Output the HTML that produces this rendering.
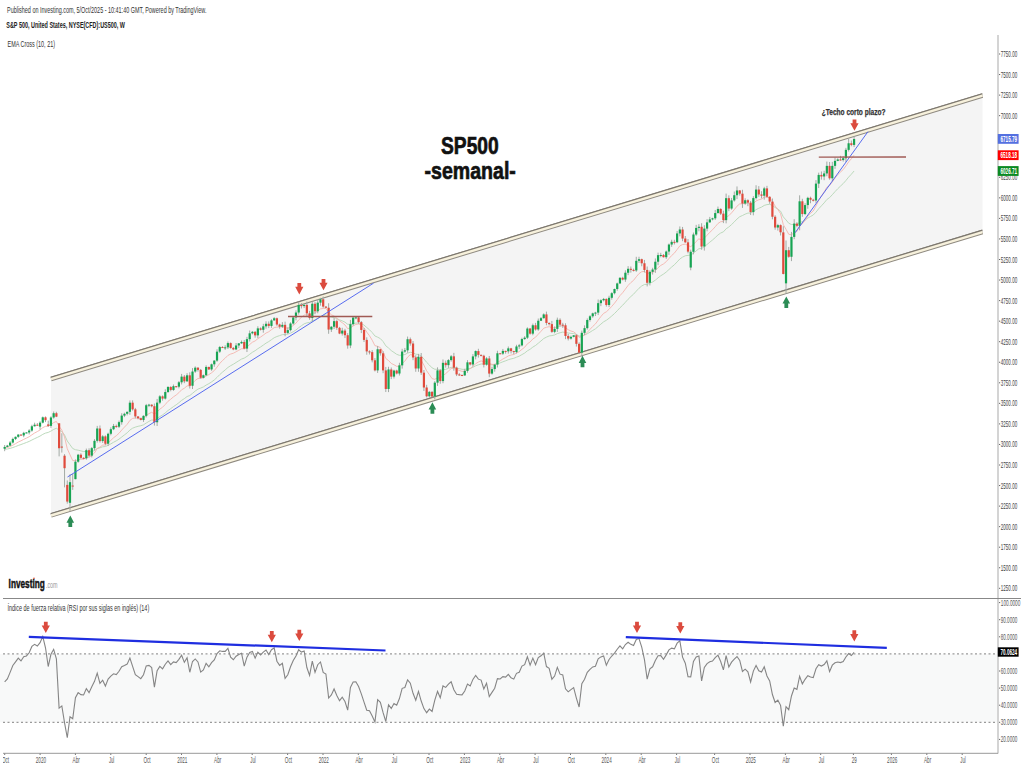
<!DOCTYPE html><html><head><meta charset="utf-8"><style>html,body{margin:0;padding:0;background:#fff;width:1024px;height:768px;overflow:hidden}</style></head><body><svg width="1024" height="768" viewBox="0 0 1024 768" style="display:block">
<rect width="1024" height="768" fill="#fff"/>
<text x="7" y="13.3" font-size="8.8" font-weight="normal" fill="#333" text-anchor="start" textLength="199.5" lengthAdjust="spacingAndGlyphs" font-family="Liberation Sans, sans-serif" >Published on Investing.com, 5/Oct/2025 - 10:41:40 GMT, Powered by TradingView.</text>
<text x="6.3" y="27.5" font-size="8.2" font-weight="bold" fill="#222" text-anchor="start" textLength="118.6" lengthAdjust="spacingAndGlyphs" font-family="Liberation Sans, sans-serif" >S&amp;P 500, United States, NYSE(CFD):US500, W</text>
<text x="7.5" y="47.4" font-size="9" font-weight="normal" fill="#333" text-anchor="start" textLength="47.5" lengthAdjust="spacingAndGlyphs" font-family="Liberation Sans, sans-serif" >EMA Cross (10, 21)</text>
<polygon points="51,378.60 982.5,95.14 982.5,231.54 51,515.00" fill="#f4f4f4"/>
<polyline points="4.66,449.33 7.38,448.99 10.10,448.40 12.83,447.54 15.55,446.57 18.27,445.48 20.99,444.56 23.72,443.50 26.44,442.49 29.16,441.41 31.88,440.03 34.61,438.64 37.33,437.41 40.05,436.07 42.77,434.37 45.50,433.08 48.22,432.43 50.94,431.07 53.66,429.44 56.39,428.28 59.11,430.10 61.83,431.61 64.56,434.94 67.28,441.00 70.00,444.74 72.72,448.53 75.44,449.73 78.17,450.18 80.89,450.88 83.61,451.56 86.34,451.44 89.06,451.82 91.78,451.48 94.50,450.52 97.22,448.51 99.95,447.84 102.67,446.80 105.39,446.52 108.12,445.36 110.84,443.89 113.56,442.26 116.28,440.85 119.00,439.15 121.73,437.01 124.45,434.90 127.17,432.80 129.90,430.06 132.62,428.18 135.34,427.11 138.06,426.30 140.78,425.73 143.51,424.83 146.23,423.05 148.95,421.38 151.68,420.00 154.40,420.20 157.12,418.60 159.84,416.58 162.56,414.95 165.29,412.86 168.01,410.51 170.73,408.64 173.46,406.60 176.18,404.79 178.90,402.74 181.62,400.37 184.34,398.64 187.07,396.52 189.79,395.54 192.51,393.36 195.24,391.02 197.96,389.10 200.68,388.07 203.40,386.91 206.12,385.09 208.85,383.66 211.57,381.90 214.29,379.97 217.02,377.39 219.74,374.63 222.46,372.16 225.18,369.91 227.91,367.47 230.63,365.70 233.35,364.22 236.07,362.51 238.80,360.77 241.52,359.06 244.24,358.11 246.96,356.39 249.69,354.29 252.41,352.25 255.13,350.71 257.85,348.68 260.58,346.97 263.30,345.09 266.02,343.15 268.74,341.59 271.47,339.66 274.19,337.72 276.91,336.52 279.63,335.62 282.36,334.64 285.08,334.48 287.80,334.09 290.52,333.13 293.25,331.70 295.97,329.96 298.69,327.68 301.41,325.72 304.13,323.83 306.86,322.87 309.58,322.43 312.30,320.73 315.02,319.87 317.75,318.31 320.47,316.58 323.19,315.67 325.92,314.95 328.64,316.28 331.36,317.23 334.08,317.59 336.81,318.51 339.53,319.88 342.25,320.86 344.97,322.16 347.69,324.28 350.42,324.27 353.14,323.67 355.86,323.10 358.59,323.01 361.31,323.64 364.03,325.12 366.75,327.51 369.48,329.75 372.20,332.52 374.92,335.96 377.64,337.17 380.37,338.64 383.09,341.52 385.81,345.84 388.53,347.99 391.25,350.59 393.98,352.41 396.70,354.32 399.42,355.33 402.15,354.99 404.87,354.56 407.59,353.17 410.31,352.29 413.04,352.76 415.76,354.19 418.48,354.43 421.20,356.09 423.93,358.94 426.65,362.33 429.37,365.02 432.09,367.88 434.81,369.22 437.54,369.33 440.26,370.40 442.98,369.71 445.71,369.29 448.43,368.46 451.15,367.36 453.87,367.38 456.60,368.02 459.32,368.66 462.04,369.27 464.76,369.42 467.49,368.77 470.21,368.38 472.93,367.29 475.65,365.82 478.38,364.82 481.10,364.00 483.82,364.06 486.54,363.55 489.27,364.47 491.99,364.89 494.71,364.86 497.43,363.81 500.16,362.88 502.88,361.80 505.60,360.84 508.32,359.71 511.05,358.92 513.77,358.30 516.49,357.22 519.21,356.15 521.93,354.60 524.66,353.06 527.38,350.83 530.10,349.27 532.83,347.08 535.55,345.48 538.27,343.23 540.99,340.96 543.72,338.54 546.44,337.13 549.16,335.94 551.88,335.57 554.61,334.96 557.33,333.59 560.05,332.78 562.77,332.09 565.50,332.44 568.22,333.00 570.94,333.35 573.66,333.53 576.38,334.46 579.11,336.12 581.83,335.82 584.55,335.12 587.27,333.74 590.00,332.16 592.72,330.45 595.44,328.83 598.17,326.49 600.89,324.11 603.61,321.82 606.33,320.29 609.06,318.24 611.78,315.97 614.50,313.52 617.22,310.78 619.95,307.79 622.67,305.22 625.39,302.27 628.11,299.22 630.84,296.55 633.56,294.18 636.28,291.15 639.00,288.24 641.73,285.97 644.45,284.51 647.17,284.35 649.89,283.21 652.62,281.97 655.34,280.13 658.06,277.86 660.78,275.78 663.50,274.09 666.23,272.04 668.95,269.54 671.67,267.02 674.39,264.77 677.12,261.92 679.84,258.97 682.56,257.11 685.29,255.77 688.01,255.39 690.73,255.06 693.45,253.19 696.18,250.90 698.90,248.71 701.62,248.51 704.34,246.70 707.07,244.48 709.79,242.20 712.51,240.03 715.23,237.58 717.96,234.97 720.68,233.03 723.40,231.86 726.12,228.80 728.85,226.96 731.57,224.54 734.29,221.88 737.01,219.02 739.74,216.71 742.46,215.51 745.18,214.13 747.90,213.08 750.62,212.99 753.35,211.63 756.07,209.63 758.79,208.25 761.51,207.11 764.24,205.41 766.96,204.62 769.68,204.34 772.41,205.47 775.13,207.48 777.85,209.08 780.57,211.19 783.30,216.90 786.02,219.93 788.74,223.28 791.46,224.52 794.19,224.43 796.91,224.56 799.63,222.44 802.35,221.68 805.08,220.17 807.80,218.14 810.52,216.47 813.24,215.01 815.97,212.16 818.69,208.78 821.41,205.84 824.13,202.89 826.86,199.53 829.58,197.60 832.30,194.71 835.02,191.64 837.75,188.71 840.47,186.10 843.19,183.57 845.91,180.50 848.63,177.12 851.36,174.19 854.08,170.99" fill="none" stroke="#b5d6b5" stroke-width="0.9" />
<polyline points="4.66,447.90 7.38,447.49 10.10,446.59 12.83,445.20 15.55,443.67 18.27,442.02 20.99,440.82 23.72,439.37 26.44,438.11 29.16,436.74 31.88,434.84 34.61,433.00 37.33,431.57 40.05,429.95 42.77,427.65 45.50,426.30 48.22,426.22 50.94,424.63 53.66,422.56 56.39,421.49 59.11,426.35 61.83,430.06 64.56,436.99 67.28,448.74 70.00,454.82 72.72,460.57 75.44,460.78 78.17,459.68 80.89,459.34 83.61,459.16 86.34,457.53 89.06,457.19 91.78,455.54 94.50,452.87 97.22,448.44 99.95,447.10 102.67,445.15 105.39,444.89 108.12,442.87 110.84,440.39 113.56,437.77 116.28,435.75 119.00,433.28 121.73,430.07 124.45,427.11 127.17,424.33 129.90,420.39 132.62,418.39 135.34,418.03 138.06,418.07 140.78,418.41 143.51,417.94 146.23,415.63 148.95,413.64 151.68,412.29 154.40,414.10 157.12,412.01 159.84,409.17 162.56,407.24 165.29,404.47 168.01,401.29 170.73,399.23 173.46,396.86 176.18,395.00 178.90,392.70 181.62,389.78 184.34,388.24 187.07,385.89 189.79,385.87 192.51,383.26 195.24,380.43 197.96,378.51 200.68,378.38 203.40,377.81 206.12,375.83 208.85,374.66 211.57,372.78 214.29,370.57 217.02,367.13 219.74,363.47 222.46,360.56 225.18,358.16 227.91,355.42 230.63,354.06 233.35,353.22 236.07,351.81 238.80,350.27 241.52,348.76 244.24,348.73 246.96,346.99 249.69,344.50 252.41,342.20 255.13,340.96 257.85,338.67 260.58,337.06 263.30,335.11 266.02,333.05 268.74,331.75 271.47,329.69 274.19,327.61 276.91,327.05 279.63,326.98 282.36,326.59 285.08,327.74 287.80,328.17 290.52,327.33 293.25,325.53 295.97,323.17 298.69,319.86 301.41,317.36 304.13,315.09 306.86,314.77 309.58,315.36 312.30,313.25 315.02,312.89 317.75,311.03 320.47,308.89 323.19,308.48 325.92,308.34 328.64,312.20 331.36,314.84 334.08,315.99 336.81,318.14 339.53,320.94 342.25,322.70 344.97,324.97 347.69,328.70 350.42,327.88 353.14,326.01 355.86,324.44 358.59,324.02 361.31,325.10 364.03,327.79 366.75,332.08 369.48,335.73 372.20,340.19 374.92,345.68 377.64,346.33 380.37,347.60 383.09,351.74 385.81,358.51 388.53,360.50 391.25,363.44 393.98,364.73 396.70,366.33 399.42,366.15 402.15,363.50 404.87,361.11 407.59,357.13 410.31,354.65 413.04,355.17 415.76,357.59 418.48,357.44 421.20,360.21 423.93,365.17 426.65,370.83 429.37,374.65 432.09,378.63 434.81,379.35 437.54,377.72 440.26,378.33 442.98,375.51 445.71,373.63 448.43,371.17 451.15,368.47 453.87,368.33 456.60,369.43 459.32,370.44 462.04,371.35 464.76,371.26 467.49,369.64 470.21,368.70 472.93,366.46 475.65,363.67 478.38,362.06 481.10,360.92 483.82,361.61 486.54,361.04 489.27,363.32 491.99,364.37 494.71,364.41 497.43,362.39 500.16,360.80 502.88,359.00 505.60,357.60 508.32,355.92 511.05,355.04 513.77,354.50 516.49,353.04 519.21,351.65 521.93,349.36 524.66,347.24 527.38,343.84 530.10,341.98 532.83,338.94 535.55,337.22 538.27,334.22 540.99,331.31 543.72,328.23 546.44,327.28 549.16,326.70 551.88,327.63 554.61,327.86 557.33,326.40 560.05,326.09 562.77,325.94 565.50,327.76 568.22,329.72 570.94,331.02 573.66,331.80 576.38,333.99 579.11,337.38 581.83,336.55 584.55,335.02 587.27,332.29 590.00,329.38 592.72,326.46 595.44,323.94 598.17,320.16 600.89,316.55 603.61,313.35 606.33,311.82 609.06,309.27 611.78,306.35 614.50,303.20 617.22,299.60 619.95,295.64 622.67,292.72 625.39,289.09 628.11,285.40 630.84,282.57 633.56,280.36 636.28,276.81 639.00,273.60 641.73,271.73 644.45,271.40 647.17,273.47 649.89,273.17 652.62,272.51 655.34,270.55 658.06,267.75 660.78,265.42 663.50,263.93 666.23,261.67 668.95,258.56 671.67,255.52 674.39,253.10 677.12,249.53 679.84,245.89 682.56,244.55 685.29,244.14 688.01,245.50 690.73,246.64 693.45,244.44 696.18,241.44 698.90,238.77 701.62,240.18 704.34,238.07 707.07,235.21 709.79,232.34 712.51,229.79 715.23,226.75 717.96,223.51 720.68,221.71 723.40,221.42 726.12,217.20 728.85,215.62 731.57,212.86 734.29,209.65 737.01,206.16 739.74,203.89 742.46,203.82 745.18,203.17 747.90,203.07 750.62,204.70 753.35,203.50 756.07,200.97 758.79,199.79 761.51,199.05 764.24,197.11 766.96,197.05 769.68,197.87 772.41,201.30 775.13,206.07 777.85,209.54 780.57,213.67 783.30,224.64 786.02,229.29 788.74,234.29 791.46,234.76 794.19,232.73 796.91,231.47 799.63,225.98 802.35,223.81 805.08,220.41 807.80,216.31 810.52,213.29 813.24,210.96 815.97,205.99 818.69,200.34 821.41,196.00 824.13,191.90 826.86,187.17 829.58,185.55 832.30,181.98 835.02,178.14 837.75,174.74 840.47,172.07 843.19,169.55 845.91,165.97 848.63,161.84 851.36,158.76 854.08,155.17" fill="none" stroke="#f4b4ae" stroke-width="0.9" />
<line x1="51" y1="379.00" x2="982.5" y2="95.54" stroke="#8f8a80" stroke-width="4.6"/>
<line x1="51" y1="377.20" x2="982.5" y2="93.74" stroke="#7d786f" stroke-width="1.2"/>
<line x1="51" y1="379.10" x2="982.5" y2="95.64" stroke="#f7f1dc" stroke-width="2.4"/>
<line x1="51" y1="515.40" x2="982.5" y2="231.94" stroke="#8f8a80" stroke-width="4.6"/>
<line x1="51" y1="513.60" x2="982.5" y2="230.14" stroke="#7d786f" stroke-width="1.2"/>
<line x1="51" y1="515.50" x2="982.5" y2="232.04" stroke="#f7f1dc" stroke-width="2.4"/>
<line x1="4.66" y1="445.03" x2="4.66" y2="451.19" stroke="#a3aaa5" stroke-width="1"/>
<rect x="3.56" y="446.92" width="2.2" height="1.81" fill="#17a453"/>
<line x1="7.38" y1="444.90" x2="7.38" y2="447.31" stroke="#a3aaa5" stroke-width="1"/>
<rect x="6.28" y="445.60" width="2.2" height="1.32" fill="#17a453"/>
<line x1="10.10" y1="441.09" x2="10.10" y2="446.03" stroke="#a3aaa5" stroke-width="1"/>
<rect x="9.00" y="442.56" width="2.2" height="3.04" fill="#17a453"/>
<line x1="12.83" y1="437.61" x2="12.83" y2="443.58" stroke="#a3aaa5" stroke-width="1"/>
<rect x="11.73" y="438.94" width="2.2" height="3.62" fill="#17a453"/>
<line x1="15.55" y1="436.49" x2="15.55" y2="440.09" stroke="#a3aaa5" stroke-width="1"/>
<rect x="14.45" y="436.81" width="2.2" height="2.14" fill="#17a453"/>
<line x1="18.27" y1="434.29" x2="18.27" y2="437.83" stroke="#a3aaa5" stroke-width="1"/>
<rect x="17.17" y="434.59" width="2.2" height="2.22" fill="#17a453"/>
<line x1="20.99" y1="434.38" x2="20.99" y2="435.66" stroke="#a3aaa5" stroke-width="1"/>
<rect x="19.89" y="434.59" width="2.2" height="1.00" fill="#e04a3c"/>
<line x1="23.72" y1="431.82" x2="23.72" y2="437.20" stroke="#a3aaa5" stroke-width="1"/>
<rect x="22.62" y="432.86" width="2.2" height="2.55" fill="#17a453"/>
<line x1="26.44" y1="432.18" x2="26.44" y2="433.32" stroke="#a3aaa5" stroke-width="1"/>
<rect x="25.34" y="432.45" width="2.2" height="1.00" fill="#17a453"/>
<line x1="29.16" y1="429.19" x2="29.16" y2="434.42" stroke="#a3aaa5" stroke-width="1"/>
<rect x="28.06" y="430.56" width="2.2" height="1.89" fill="#17a453"/>
<line x1="31.88" y1="424.76" x2="31.88" y2="431.74" stroke="#a3aaa5" stroke-width="1"/>
<rect x="30.78" y="426.28" width="2.2" height="4.27" fill="#17a453"/>
<line x1="34.61" y1="422.69" x2="34.61" y2="426.53" stroke="#a3aaa5" stroke-width="1"/>
<rect x="33.51" y="424.72" width="2.2" height="1.56" fill="#17a453"/>
<line x1="37.33" y1="423.04" x2="37.33" y2="425.73" stroke="#a3aaa5" stroke-width="1"/>
<rect x="36.23" y="424.72" width="2.2" height="1.00" fill="#e04a3c"/>
<line x1="40.05" y1="421.27" x2="40.05" y2="429.57" stroke="#a3aaa5" stroke-width="1"/>
<rect x="38.95" y="422.67" width="2.2" height="3.95" fill="#17a453"/>
<line x1="42.77" y1="416.51" x2="42.77" y2="423.43" stroke="#a3aaa5" stroke-width="1"/>
<rect x="41.67" y="417.32" width="2.2" height="5.34" fill="#17a453"/>
<line x1="45.50" y1="416.43" x2="45.50" y2="422.08" stroke="#a3aaa5" stroke-width="1"/>
<rect x="44.40" y="417.32" width="2.2" height="2.88" fill="#e04a3c"/>
<line x1="48.22" y1="420.61" x2="48.22" y2="426.86" stroke="#a3aaa5" stroke-width="1"/>
<rect x="47.12" y="424.39" width="2.2" height="1.48" fill="#e04a3c"/>
<line x1="50.94" y1="416.29" x2="50.94" y2="427.86" stroke="#a3aaa5" stroke-width="1"/>
<rect x="49.84" y="417.49" width="2.2" height="8.38" fill="#17a453"/>
<line x1="53.66" y1="411.51" x2="53.66" y2="418.66" stroke="#a3aaa5" stroke-width="1"/>
<rect x="52.56" y="413.21" width="2.2" height="4.27" fill="#17a453"/>
<line x1="56.39" y1="411.79" x2="56.39" y2="417.14" stroke="#a3aaa5" stroke-width="1"/>
<rect x="55.29" y="413.21" width="2.2" height="3.45" fill="#e04a3c"/>
<line x1="59.11" y1="423.16" x2="59.11" y2="456.37" stroke="#a3aaa5" stroke-width="1"/>
<rect x="58.01" y="423.32" width="2.2" height="24.91" fill="#e04a3c"/>
<line x1="61.83" y1="433.27" x2="61.83" y2="452.59" stroke="#a3aaa5" stroke-width="1"/>
<rect x="60.73" y="446.59" width="2.2" height="1.00" fill="#e04a3c"/>
<line x1="64.56" y1="454.15" x2="64.56" y2="487.36" stroke="#a3aaa5" stroke-width="1"/>
<rect x="63.46" y="455.71" width="2.2" height="12.49" fill="#e04a3c"/>
<line x1="67.28" y1="480.45" x2="67.28" y2="503.63" stroke="#a3aaa5" stroke-width="1"/>
<rect x="66.18" y="484.89" width="2.2" height="16.69" fill="#e04a3c"/>
<line x1="70.00" y1="474.29" x2="70.00" y2="510.87" stroke="#a3aaa5" stroke-width="1"/>
<rect x="68.90" y="482.18" width="2.2" height="20.63" fill="#17a453"/>
<line x1="72.72" y1="473.96" x2="72.72" y2="489.91" stroke="#a3aaa5" stroke-width="1"/>
<rect x="71.62" y="485.55" width="2.2" height="1.00" fill="#e04a3c"/>
<line x1="75.44" y1="459.41" x2="75.44" y2="479.30" stroke="#a3aaa5" stroke-width="1"/>
<rect x="74.34" y="461.71" width="2.2" height="17.43" fill="#17a453"/>
<line x1="78.17" y1="453.92" x2="78.17" y2="462.76" stroke="#a3aaa5" stroke-width="1"/>
<rect x="77.07" y="454.72" width="2.2" height="6.99" fill="#17a453"/>
<line x1="80.89" y1="453.27" x2="80.89" y2="458.88" stroke="#a3aaa5" stroke-width="1"/>
<rect x="79.79" y="454.72" width="2.2" height="3.12" fill="#e04a3c"/>
<line x1="83.61" y1="457.27" x2="83.61" y2="459.37" stroke="#a3aaa5" stroke-width="1"/>
<rect x="82.51" y="457.85" width="2.2" height="1.00" fill="#e04a3c"/>
<line x1="86.34" y1="448.60" x2="86.34" y2="459.68" stroke="#a3aaa5" stroke-width="1"/>
<rect x="85.24" y="450.20" width="2.2" height="8.14" fill="#17a453"/>
<line x1="89.06" y1="448.31" x2="89.06" y2="457.36" stroke="#a3aaa5" stroke-width="1"/>
<rect x="87.96" y="450.20" width="2.2" height="5.43" fill="#e04a3c"/>
<line x1="91.78" y1="446.97" x2="91.78" y2="457.38" stroke="#a3aaa5" stroke-width="1"/>
<rect x="90.68" y="448.15" width="2.2" height="7.48" fill="#17a453"/>
<line x1="94.50" y1="439.16" x2="94.50" y2="450.46" stroke="#a3aaa5" stroke-width="1"/>
<rect x="93.40" y="440.83" width="2.2" height="7.32" fill="#17a453"/>
<line x1="97.22" y1="425.89" x2="97.22" y2="442.61" stroke="#a3aaa5" stroke-width="1"/>
<rect x="96.12" y="428.50" width="2.2" height="12.33" fill="#17a453"/>
<line x1="99.95" y1="425.48" x2="99.95" y2="442.55" stroke="#a3aaa5" stroke-width="1"/>
<rect x="98.85" y="428.50" width="2.2" height="12.58" fill="#e04a3c"/>
<line x1="102.67" y1="435.16" x2="102.67" y2="442.94" stroke="#a3aaa5" stroke-width="1"/>
<rect x="101.57" y="436.39" width="2.2" height="4.69" fill="#17a453"/>
<line x1="105.39" y1="435.39" x2="105.39" y2="445.31" stroke="#a3aaa5" stroke-width="1"/>
<rect x="104.29" y="436.39" width="2.2" height="7.32" fill="#e04a3c"/>
<line x1="108.12" y1="432.70" x2="108.12" y2="445.94" stroke="#a3aaa5" stroke-width="1"/>
<rect x="107.02" y="433.76" width="2.2" height="9.95" fill="#17a453"/>
<line x1="110.84" y1="427.35" x2="110.84" y2="435.30" stroke="#a3aaa5" stroke-width="1"/>
<rect x="109.74" y="429.24" width="2.2" height="4.52" fill="#17a453"/>
<line x1="113.56" y1="423.96" x2="113.56" y2="430.17" stroke="#a3aaa5" stroke-width="1"/>
<rect x="112.46" y="425.95" width="2.2" height="3.29" fill="#17a453"/>
<line x1="116.28" y1="424.56" x2="116.28" y2="427.90" stroke="#a3aaa5" stroke-width="1"/>
<rect x="115.18" y="425.95" width="2.2" height="1.00" fill="#e04a3c"/>
<line x1="119.00" y1="420.60" x2="119.00" y2="428.03" stroke="#a3aaa5" stroke-width="1"/>
<rect x="117.91" y="422.17" width="2.2" height="4.52" fill="#17a453"/>
<line x1="121.73" y1="413.27" x2="121.73" y2="424.70" stroke="#a3aaa5" stroke-width="1"/>
<rect x="120.63" y="415.60" width="2.2" height="6.58" fill="#17a453"/>
<line x1="124.45" y1="412.66" x2="124.45" y2="417.10" stroke="#a3aaa5" stroke-width="1"/>
<rect x="123.35" y="413.79" width="2.2" height="1.81" fill="#17a453"/>
<line x1="127.17" y1="411.50" x2="127.17" y2="415.40" stroke="#a3aaa5" stroke-width="1"/>
<rect x="126.07" y="411.82" width="2.2" height="1.97" fill="#17a453"/>
<line x1="129.90" y1="400.44" x2="129.90" y2="414.79" stroke="#a3aaa5" stroke-width="1"/>
<rect x="128.80" y="402.69" width="2.2" height="9.12" fill="#17a453"/>
<line x1="132.62" y1="400.36" x2="132.62" y2="410.59" stroke="#a3aaa5" stroke-width="1"/>
<rect x="131.52" y="402.69" width="2.2" height="6.66" fill="#e04a3c"/>
<line x1="135.34" y1="407.88" x2="135.34" y2="418.45" stroke="#a3aaa5" stroke-width="1"/>
<rect x="134.24" y="409.35" width="2.2" height="7.07" fill="#e04a3c"/>
<line x1="138.06" y1="416.19" x2="138.06" y2="419.32" stroke="#a3aaa5" stroke-width="1"/>
<rect x="136.96" y="416.42" width="2.2" height="1.81" fill="#e04a3c"/>
<line x1="140.78" y1="417.73" x2="140.78" y2="420.36" stroke="#a3aaa5" stroke-width="1"/>
<rect x="139.69" y="418.23" width="2.2" height="1.73" fill="#e04a3c"/>
<line x1="143.51" y1="415.32" x2="143.51" y2="421.89" stroke="#a3aaa5" stroke-width="1"/>
<rect x="142.41" y="415.84" width="2.2" height="4.11" fill="#17a453"/>
<line x1="146.23" y1="403.91" x2="146.23" y2="417.41" stroke="#a3aaa5" stroke-width="1"/>
<rect x="145.13" y="405.24" width="2.2" height="10.60" fill="#17a453"/>
<line x1="148.95" y1="403.80" x2="148.95" y2="407.09" stroke="#a3aaa5" stroke-width="1"/>
<rect x="147.85" y="404.67" width="2.2" height="1.00" fill="#17a453"/>
<line x1="151.68" y1="404.34" x2="151.68" y2="407.30" stroke="#a3aaa5" stroke-width="1"/>
<rect x="150.58" y="404.67" width="2.2" height="1.56" fill="#e04a3c"/>
<line x1="154.40" y1="403.56" x2="154.40" y2="425.57" stroke="#a3aaa5" stroke-width="1"/>
<rect x="153.30" y="406.23" width="2.2" height="16.03" fill="#e04a3c"/>
<line x1="157.12" y1="398.94" x2="157.12" y2="426.01" stroke="#a3aaa5" stroke-width="1"/>
<rect x="156.02" y="402.61" width="2.2" height="19.65" fill="#17a453"/>
<line x1="159.84" y1="395.15" x2="159.84" y2="404.12" stroke="#a3aaa5" stroke-width="1"/>
<rect x="158.74" y="396.36" width="2.2" height="6.25" fill="#17a453"/>
<line x1="162.56" y1="395.39" x2="162.56" y2="400.67" stroke="#a3aaa5" stroke-width="1"/>
<rect x="161.47" y="396.36" width="2.2" height="2.22" fill="#e04a3c"/>
<line x1="165.29" y1="389.29" x2="165.29" y2="399.56" stroke="#a3aaa5" stroke-width="1"/>
<rect x="164.19" y="392.01" width="2.2" height="6.58" fill="#17a453"/>
<line x1="168.01" y1="386.11" x2="168.01" y2="393.02" stroke="#a3aaa5" stroke-width="1"/>
<rect x="166.91" y="386.99" width="2.2" height="5.01" fill="#17a453"/>
<line x1="170.73" y1="386.19" x2="170.73" y2="391.30" stroke="#a3aaa5" stroke-width="1"/>
<rect x="169.63" y="386.99" width="2.2" height="2.96" fill="#e04a3c"/>
<line x1="173.46" y1="384.50" x2="173.46" y2="390.91" stroke="#a3aaa5" stroke-width="1"/>
<rect x="172.36" y="386.17" width="2.2" height="3.78" fill="#17a453"/>
<line x1="176.18" y1="386.11" x2="176.18" y2="387.63" stroke="#a3aaa5" stroke-width="1"/>
<rect x="175.08" y="386.17" width="2.2" height="1.00" fill="#e04a3c"/>
<line x1="178.90" y1="381.05" x2="178.90" y2="388.36" stroke="#a3aaa5" stroke-width="1"/>
<rect x="177.80" y="382.31" width="2.2" height="4.36" fill="#17a453"/>
<line x1="181.62" y1="373.91" x2="181.62" y2="384.44" stroke="#a3aaa5" stroke-width="1"/>
<rect x="180.52" y="376.63" width="2.2" height="5.67" fill="#17a453"/>
<line x1="184.34" y1="375.02" x2="184.34" y2="383.17" stroke="#a3aaa5" stroke-width="1"/>
<rect x="183.25" y="376.63" width="2.2" height="4.69" fill="#e04a3c"/>
<line x1="187.07" y1="373.18" x2="187.07" y2="382.04" stroke="#a3aaa5" stroke-width="1"/>
<rect x="185.97" y="375.32" width="2.2" height="6.00" fill="#17a453"/>
<line x1="189.79" y1="372.30" x2="189.79" y2="388.52" stroke="#a3aaa5" stroke-width="1"/>
<rect x="188.69" y="375.32" width="2.2" height="10.44" fill="#e04a3c"/>
<line x1="192.51" y1="368.10" x2="192.51" y2="389.02" stroke="#a3aaa5" stroke-width="1"/>
<rect x="191.41" y="371.54" width="2.2" height="14.22" fill="#17a453"/>
<line x1="195.24" y1="366.38" x2="195.24" y2="372.85" stroke="#a3aaa5" stroke-width="1"/>
<rect x="194.14" y="367.68" width="2.2" height="3.86" fill="#17a453"/>
<line x1="197.96" y1="367.21" x2="197.96" y2="371.58" stroke="#a3aaa5" stroke-width="1"/>
<rect x="196.86" y="367.68" width="2.2" height="2.22" fill="#e04a3c"/>
<line x1="200.68" y1="368.97" x2="200.68" y2="378.73" stroke="#a3aaa5" stroke-width="1"/>
<rect x="199.58" y="369.89" width="2.2" height="7.89" fill="#e04a3c"/>
<line x1="203.40" y1="374.51" x2="203.40" y2="378.41" stroke="#a3aaa5" stroke-width="1"/>
<rect x="202.30" y="375.24" width="2.2" height="2.55" fill="#17a453"/>
<line x1="206.12" y1="365.31" x2="206.12" y2="376.19" stroke="#a3aaa5" stroke-width="1"/>
<rect x="205.03" y="366.94" width="2.2" height="8.30" fill="#17a453"/>
<line x1="208.85" y1="366.69" x2="208.85" y2="370.00" stroke="#a3aaa5" stroke-width="1"/>
<rect x="207.75" y="366.94" width="2.2" height="2.47" fill="#e04a3c"/>
<line x1="211.57" y1="363.56" x2="211.57" y2="370.77" stroke="#a3aaa5" stroke-width="1"/>
<rect x="210.47" y="364.31" width="2.2" height="5.10" fill="#17a453"/>
<line x1="214.29" y1="360.18" x2="214.29" y2="366.76" stroke="#a3aaa5" stroke-width="1"/>
<rect x="213.19" y="360.61" width="2.2" height="3.70" fill="#17a453"/>
<line x1="217.02" y1="349.25" x2="217.02" y2="361.86" stroke="#a3aaa5" stroke-width="1"/>
<rect x="215.92" y="351.65" width="2.2" height="8.96" fill="#17a453"/>
<line x1="219.74" y1="345.96" x2="219.74" y2="352.97" stroke="#a3aaa5" stroke-width="1"/>
<rect x="218.64" y="347.04" width="2.2" height="4.60" fill="#17a453"/>
<line x1="222.46" y1="346.10" x2="222.46" y2="347.80" stroke="#a3aaa5" stroke-width="1"/>
<rect x="221.36" y="347.04" width="2.2" height="1.00" fill="#e04a3c"/>
<line x1="225.18" y1="345.26" x2="225.18" y2="349.92" stroke="#a3aaa5" stroke-width="1"/>
<rect x="224.08" y="347.37" width="2.2" height="1.00" fill="#17a453"/>
<line x1="227.91" y1="341.50" x2="227.91" y2="349.01" stroke="#a3aaa5" stroke-width="1"/>
<rect x="226.81" y="343.10" width="2.2" height="4.27" fill="#17a453"/>
<line x1="230.63" y1="342.40" x2="230.63" y2="348.68" stroke="#a3aaa5" stroke-width="1"/>
<rect x="229.53" y="343.10" width="2.2" height="4.85" fill="#e04a3c"/>
<line x1="233.35" y1="346.96" x2="233.35" y2="350.23" stroke="#a3aaa5" stroke-width="1"/>
<rect x="232.25" y="347.95" width="2.2" height="1.48" fill="#e04a3c"/>
<line x1="236.07" y1="343.02" x2="236.07" y2="350.22" stroke="#a3aaa5" stroke-width="1"/>
<rect x="234.97" y="345.48" width="2.2" height="3.95" fill="#17a453"/>
<line x1="238.80" y1="343.07" x2="238.80" y2="348.08" stroke="#a3aaa5" stroke-width="1"/>
<rect x="237.70" y="343.34" width="2.2" height="2.14" fill="#17a453"/>
<line x1="241.52" y1="340.48" x2="241.52" y2="343.85" stroke="#a3aaa5" stroke-width="1"/>
<rect x="240.42" y="341.95" width="2.2" height="1.40" fill="#17a453"/>
<line x1="244.24" y1="339.94" x2="244.24" y2="349.34" stroke="#a3aaa5" stroke-width="1"/>
<rect x="243.14" y="341.95" width="2.2" height="6.66" fill="#e04a3c"/>
<line x1="246.96" y1="336.87" x2="246.96" y2="352.03" stroke="#a3aaa5" stroke-width="1"/>
<rect x="245.86" y="339.15" width="2.2" height="9.45" fill="#17a453"/>
<line x1="249.69" y1="330.51" x2="249.69" y2="341.53" stroke="#a3aaa5" stroke-width="1"/>
<rect x="248.59" y="333.32" width="2.2" height="5.84" fill="#17a453"/>
<line x1="252.41" y1="331.01" x2="252.41" y2="334.41" stroke="#a3aaa5" stroke-width="1"/>
<rect x="251.31" y="331.84" width="2.2" height="1.48" fill="#17a453"/>
<line x1="255.13" y1="331.05" x2="255.13" y2="337.70" stroke="#a3aaa5" stroke-width="1"/>
<rect x="254.03" y="331.84" width="2.2" height="3.53" fill="#e04a3c"/>
<line x1="257.85" y1="326.29" x2="257.85" y2="338.10" stroke="#a3aaa5" stroke-width="1"/>
<rect x="256.75" y="328.38" width="2.2" height="6.99" fill="#17a453"/>
<line x1="260.58" y1="327.39" x2="260.58" y2="330.50" stroke="#a3aaa5" stroke-width="1"/>
<rect x="259.48" y="328.38" width="2.2" height="1.40" fill="#e04a3c"/>
<line x1="263.30" y1="323.85" x2="263.30" y2="332.71" stroke="#a3aaa5" stroke-width="1"/>
<rect x="262.20" y="326.33" width="2.2" height="3.45" fill="#17a453"/>
<line x1="266.02" y1="321.27" x2="266.02" y2="328.71" stroke="#a3aaa5" stroke-width="1"/>
<rect x="264.92" y="323.78" width="2.2" height="2.55" fill="#17a453"/>
<line x1="268.74" y1="321.42" x2="268.74" y2="328.08" stroke="#a3aaa5" stroke-width="1"/>
<rect x="267.64" y="323.78" width="2.2" height="2.14" fill="#e04a3c"/>
<line x1="271.47" y1="319.25" x2="271.47" y2="327.85" stroke="#a3aaa5" stroke-width="1"/>
<rect x="270.37" y="320.41" width="2.2" height="5.51" fill="#17a453"/>
<line x1="274.19" y1="317.10" x2="274.19" y2="320.70" stroke="#a3aaa5" stroke-width="1"/>
<rect x="273.09" y="318.27" width="2.2" height="2.14" fill="#17a453"/>
<line x1="276.91" y1="317.57" x2="276.91" y2="325.88" stroke="#a3aaa5" stroke-width="1"/>
<rect x="275.81" y="318.27" width="2.2" height="6.25" fill="#e04a3c"/>
<line x1="279.63" y1="323.63" x2="279.63" y2="328.69" stroke="#a3aaa5" stroke-width="1"/>
<rect x="278.53" y="324.52" width="2.2" height="2.14" fill="#e04a3c"/>
<line x1="282.36" y1="322.15" x2="282.36" y2="328.02" stroke="#a3aaa5" stroke-width="1"/>
<rect x="281.25" y="324.85" width="2.2" height="1.81" fill="#17a453"/>
<line x1="285.08" y1="321.63" x2="285.08" y2="336.26" stroke="#a3aaa5" stroke-width="1"/>
<rect x="283.98" y="324.85" width="2.2" height="8.06" fill="#e04a3c"/>
<line x1="287.80" y1="327.35" x2="287.80" y2="334.13" stroke="#a3aaa5" stroke-width="1"/>
<rect x="286.70" y="330.11" width="2.2" height="2.79" fill="#17a453"/>
<line x1="290.52" y1="322.29" x2="290.52" y2="331.37" stroke="#a3aaa5" stroke-width="1"/>
<rect x="289.42" y="323.53" width="2.2" height="6.58" fill="#17a453"/>
<line x1="293.25" y1="316.31" x2="293.25" y2="324.69" stroke="#a3aaa5" stroke-width="1"/>
<rect x="292.14" y="317.45" width="2.2" height="6.08" fill="#17a453"/>
<line x1="295.97" y1="310.32" x2="295.97" y2="320.40" stroke="#a3aaa5" stroke-width="1"/>
<rect x="294.87" y="312.52" width="2.2" height="4.93" fill="#17a453"/>
<line x1="298.69" y1="301.86" x2="298.69" y2="314.61" stroke="#a3aaa5" stroke-width="1"/>
<rect x="297.59" y="304.96" width="2.2" height="7.56" fill="#17a453"/>
<line x1="301.41" y1="303.03" x2="301.41" y2="308.44" stroke="#a3aaa5" stroke-width="1"/>
<rect x="300.31" y="304.96" width="2.2" height="1.15" fill="#e04a3c"/>
<line x1="304.13" y1="304.52" x2="304.13" y2="308.07" stroke="#a3aaa5" stroke-width="1"/>
<rect x="303.03" y="304.87" width="2.2" height="1.23" fill="#17a453"/>
<line x1="306.86" y1="301.55" x2="306.86" y2="316.32" stroke="#a3aaa5" stroke-width="1"/>
<rect x="305.76" y="304.87" width="2.2" height="8.47" fill="#e04a3c"/>
<line x1="309.58" y1="310.86" x2="309.58" y2="319.78" stroke="#a3aaa5" stroke-width="1"/>
<rect x="308.48" y="313.34" width="2.2" height="4.69" fill="#e04a3c"/>
<line x1="312.30" y1="301.80" x2="312.30" y2="321.66" stroke="#a3aaa5" stroke-width="1"/>
<rect x="311.20" y="303.72" width="2.2" height="14.30" fill="#17a453"/>
<line x1="315.02" y1="302.06" x2="315.02" y2="314.23" stroke="#a3aaa5" stroke-width="1"/>
<rect x="313.92" y="303.72" width="2.2" height="7.56" fill="#e04a3c"/>
<line x1="317.75" y1="299.07" x2="317.75" y2="313.26" stroke="#a3aaa5" stroke-width="1"/>
<rect x="316.65" y="302.65" width="2.2" height="8.63" fill="#17a453"/>
<line x1="320.47" y1="297.82" x2="320.47" y2="305.66" stroke="#a3aaa5" stroke-width="1"/>
<rect x="319.37" y="299.28" width="2.2" height="3.37" fill="#17a453"/>
<line x1="323.19" y1="296.55" x2="323.19" y2="307.80" stroke="#a3aaa5" stroke-width="1"/>
<rect x="322.09" y="299.28" width="2.2" height="7.32" fill="#e04a3c"/>
<line x1="325.92" y1="306.13" x2="325.92" y2="308.28" stroke="#a3aaa5" stroke-width="1"/>
<rect x="324.81" y="306.60" width="2.2" height="1.15" fill="#e04a3c"/>
<line x1="328.64" y1="303.22" x2="328.64" y2="333.81" stroke="#a3aaa5" stroke-width="1"/>
<rect x="327.54" y="307.75" width="2.2" height="21.78" fill="#e04a3c"/>
<line x1="331.36" y1="326.08" x2="331.36" y2="331.98" stroke="#a3aaa5" stroke-width="1"/>
<rect x="330.26" y="326.74" width="2.2" height="2.79" fill="#17a453"/>
<line x1="334.08" y1="317.98" x2="334.08" y2="329.05" stroke="#a3aaa5" stroke-width="1"/>
<rect x="332.98" y="321.15" width="2.2" height="5.59" fill="#17a453"/>
<line x1="336.81" y1="319.57" x2="336.81" y2="329.91" stroke="#a3aaa5" stroke-width="1"/>
<rect x="335.70" y="321.15" width="2.2" height="6.66" fill="#e04a3c"/>
<line x1="339.53" y1="326.90" x2="339.53" y2="334.17" stroke="#a3aaa5" stroke-width="1"/>
<rect x="338.43" y="327.81" width="2.2" height="5.75" fill="#e04a3c"/>
<line x1="342.25" y1="327.79" x2="342.25" y2="335.54" stroke="#a3aaa5" stroke-width="1"/>
<rect x="341.15" y="330.60" width="2.2" height="2.96" fill="#17a453"/>
<line x1="344.97" y1="328.79" x2="344.97" y2="338.06" stroke="#a3aaa5" stroke-width="1"/>
<rect x="343.87" y="330.60" width="2.2" height="4.60" fill="#e04a3c"/>
<line x1="347.69" y1="333.10" x2="347.69" y2="348.68" stroke="#a3aaa5" stroke-width="1"/>
<rect x="346.59" y="335.21" width="2.2" height="10.28" fill="#e04a3c"/>
<line x1="350.42" y1="319.88" x2="350.42" y2="348.17" stroke="#a3aaa5" stroke-width="1"/>
<rect x="349.32" y="324.19" width="2.2" height="21.29" fill="#17a453"/>
<line x1="353.14" y1="316.28" x2="353.14" y2="325.64" stroke="#a3aaa5" stroke-width="1"/>
<rect x="352.04" y="317.62" width="2.2" height="6.58" fill="#17a453"/>
<line x1="355.86" y1="316.70" x2="355.86" y2="319.22" stroke="#a3aaa5" stroke-width="1"/>
<rect x="354.76" y="317.37" width="2.2" height="1.00" fill="#17a453"/>
<line x1="358.59" y1="316.20" x2="358.59" y2="323.73" stroke="#a3aaa5" stroke-width="1"/>
<rect x="357.49" y="317.37" width="2.2" height="4.77" fill="#e04a3c"/>
<line x1="361.31" y1="321.01" x2="361.31" y2="333.09" stroke="#a3aaa5" stroke-width="1"/>
<rect x="360.21" y="322.14" width="2.2" height="7.81" fill="#e04a3c"/>
<line x1="364.03" y1="328.06" x2="364.03" y2="342.04" stroke="#a3aaa5" stroke-width="1"/>
<rect x="362.93" y="329.95" width="2.2" height="9.95" fill="#e04a3c"/>
<line x1="366.75" y1="337.31" x2="366.75" y2="354.76" stroke="#a3aaa5" stroke-width="1"/>
<rect x="365.65" y="339.89" width="2.2" height="11.51" fill="#e04a3c"/>
<line x1="369.48" y1="350.30" x2="369.48" y2="354.45" stroke="#a3aaa5" stroke-width="1"/>
<rect x="368.38" y="351.40" width="2.2" height="1.00" fill="#e04a3c"/>
<line x1="372.20" y1="350.13" x2="372.20" y2="362.36" stroke="#a3aaa5" stroke-width="1"/>
<rect x="371.10" y="352.14" width="2.2" height="8.14" fill="#e04a3c"/>
<line x1="374.92" y1="358.06" x2="374.92" y2="371.44" stroke="#a3aaa5" stroke-width="1"/>
<rect x="373.82" y="360.28" width="2.2" height="10.11" fill="#e04a3c"/>
<line x1="377.64" y1="346.07" x2="377.64" y2="372.95" stroke="#a3aaa5" stroke-width="1"/>
<rect x="376.54" y="349.26" width="2.2" height="21.13" fill="#17a453"/>
<line x1="380.37" y1="348.85" x2="380.37" y2="355.64" stroke="#a3aaa5" stroke-width="1"/>
<rect x="379.26" y="349.26" width="2.2" height="4.03" fill="#e04a3c"/>
<line x1="383.09" y1="351.18" x2="383.09" y2="373.19" stroke="#a3aaa5" stroke-width="1"/>
<rect x="381.99" y="353.29" width="2.2" height="17.10" fill="#e04a3c"/>
<line x1="385.81" y1="366.95" x2="385.81" y2="392.03" stroke="#a3aaa5" stroke-width="1"/>
<rect x="384.71" y="370.39" width="2.2" height="18.58" fill="#e04a3c"/>
<line x1="388.53" y1="366.78" x2="388.53" y2="392.11" stroke="#a3aaa5" stroke-width="1"/>
<rect x="387.43" y="369.48" width="2.2" height="19.48" fill="#17a453"/>
<line x1="391.25" y1="367.51" x2="391.25" y2="379.13" stroke="#a3aaa5" stroke-width="1"/>
<rect x="390.15" y="369.48" width="2.2" height="7.15" fill="#e04a3c"/>
<line x1="393.98" y1="369.70" x2="393.98" y2="378.54" stroke="#a3aaa5" stroke-width="1"/>
<rect x="392.88" y="370.55" width="2.2" height="6.08" fill="#17a453"/>
<line x1="396.70" y1="369.69" x2="396.70" y2="374.44" stroke="#a3aaa5" stroke-width="1"/>
<rect x="395.60" y="370.55" width="2.2" height="2.96" fill="#e04a3c"/>
<line x1="399.42" y1="362.75" x2="399.42" y2="375.52" stroke="#a3aaa5" stroke-width="1"/>
<rect x="398.32" y="365.37" width="2.2" height="8.14" fill="#17a453"/>
<line x1="402.15" y1="348.81" x2="402.15" y2="368.61" stroke="#a3aaa5" stroke-width="1"/>
<rect x="401.05" y="351.56" width="2.2" height="13.81" fill="#17a453"/>
<line x1="404.87" y1="347.97" x2="404.87" y2="352.77" stroke="#a3aaa5" stroke-width="1"/>
<rect x="403.77" y="350.33" width="2.2" height="1.23" fill="#17a453"/>
<line x1="407.59" y1="336.57" x2="407.59" y2="352.72" stroke="#a3aaa5" stroke-width="1"/>
<rect x="406.49" y="339.23" width="2.2" height="11.10" fill="#17a453"/>
<line x1="410.31" y1="337.52" x2="410.31" y2="345.67" stroke="#a3aaa5" stroke-width="1"/>
<rect x="409.21" y="339.23" width="2.2" height="4.27" fill="#e04a3c"/>
<line x1="413.04" y1="341.02" x2="413.04" y2="360.16" stroke="#a3aaa5" stroke-width="1"/>
<rect x="411.94" y="343.51" width="2.2" height="13.97" fill="#e04a3c"/>
<line x1="415.76" y1="355.27" x2="415.76" y2="371.79" stroke="#a3aaa5" stroke-width="1"/>
<rect x="414.66" y="357.48" width="2.2" height="11.01" fill="#e04a3c"/>
<line x1="418.48" y1="353.88" x2="418.48" y2="371.78" stroke="#a3aaa5" stroke-width="1"/>
<rect x="417.38" y="356.74" width="2.2" height="11.75" fill="#17a453"/>
<line x1="421.20" y1="352.99" x2="421.20" y2="374.88" stroke="#a3aaa5" stroke-width="1"/>
<rect x="420.10" y="356.74" width="2.2" height="15.95" fill="#e04a3c"/>
<line x1="423.93" y1="369.99" x2="423.93" y2="391.03" stroke="#a3aaa5" stroke-width="1"/>
<rect x="422.82" y="372.69" width="2.2" height="14.80" fill="#e04a3c"/>
<line x1="426.65" y1="384.82" x2="426.65" y2="397.45" stroke="#a3aaa5" stroke-width="1"/>
<rect x="425.55" y="387.49" width="2.2" height="8.80" fill="#e04a3c"/>
<line x1="429.37" y1="391.14" x2="429.37" y2="397.68" stroke="#a3aaa5" stroke-width="1"/>
<rect x="428.27" y="391.84" width="2.2" height="4.44" fill="#17a453"/>
<line x1="432.09" y1="391.22" x2="432.09" y2="397.51" stroke="#a3aaa5" stroke-width="1"/>
<rect x="430.99" y="391.84" width="2.2" height="4.69" fill="#e04a3c"/>
<line x1="434.81" y1="381.08" x2="434.81" y2="399.40" stroke="#a3aaa5" stroke-width="1"/>
<rect x="433.71" y="382.64" width="2.2" height="13.89" fill="#17a453"/>
<line x1="437.54" y1="367.35" x2="437.54" y2="385.93" stroke="#a3aaa5" stroke-width="1"/>
<rect x="436.44" y="370.39" width="2.2" height="12.25" fill="#17a453"/>
<line x1="440.26" y1="368.97" x2="440.26" y2="383.74" stroke="#a3aaa5" stroke-width="1"/>
<rect x="439.16" y="370.39" width="2.2" height="10.69" fill="#e04a3c"/>
<line x1="442.98" y1="359.44" x2="442.98" y2="383.24" stroke="#a3aaa5" stroke-width="1"/>
<rect x="441.88" y="362.83" width="2.2" height="18.25" fill="#17a453"/>
<line x1="445.71" y1="360.52" x2="445.71" y2="367.63" stroke="#a3aaa5" stroke-width="1"/>
<rect x="444.61" y="362.83" width="2.2" height="2.30" fill="#e04a3c"/>
<line x1="448.43" y1="359.09" x2="448.43" y2="367.90" stroke="#a3aaa5" stroke-width="1"/>
<rect x="447.33" y="360.11" width="2.2" height="5.01" fill="#17a453"/>
<line x1="451.15" y1="354.99" x2="451.15" y2="361.67" stroke="#a3aaa5" stroke-width="1"/>
<rect x="450.05" y="356.33" width="2.2" height="3.78" fill="#17a453"/>
<line x1="453.87" y1="352.89" x2="453.87" y2="370.75" stroke="#a3aaa5" stroke-width="1"/>
<rect x="452.77" y="356.33" width="2.2" height="11.34" fill="#e04a3c"/>
<line x1="456.60" y1="366.63" x2="456.60" y2="376.07" stroke="#a3aaa5" stroke-width="1"/>
<rect x="455.50" y="367.68" width="2.2" height="6.74" fill="#e04a3c"/>
<line x1="459.32" y1="373.18" x2="459.32" y2="375.82" stroke="#a3aaa5" stroke-width="1"/>
<rect x="458.22" y="374.42" width="2.2" height="1.00" fill="#e04a3c"/>
<line x1="462.04" y1="374.51" x2="462.04" y2="376.17" stroke="#a3aaa5" stroke-width="1"/>
<rect x="460.94" y="374.99" width="2.2" height="1.00" fill="#e04a3c"/>
<line x1="464.76" y1="368.76" x2="464.76" y2="375.90" stroke="#a3aaa5" stroke-width="1"/>
<rect x="463.66" y="370.88" width="2.2" height="4.52" fill="#17a453"/>
<line x1="467.49" y1="360.17" x2="467.49" y2="372.78" stroke="#a3aaa5" stroke-width="1"/>
<rect x="466.38" y="362.33" width="2.2" height="8.55" fill="#17a453"/>
<line x1="470.21" y1="362.08" x2="470.21" y2="365.46" stroke="#a3aaa5" stroke-width="1"/>
<rect x="469.11" y="362.33" width="2.2" height="2.14" fill="#e04a3c"/>
<line x1="472.93" y1="354.10" x2="472.93" y2="366.51" stroke="#a3aaa5" stroke-width="1"/>
<rect x="471.83" y="356.41" width="2.2" height="8.06" fill="#17a453"/>
<line x1="475.65" y1="350.38" x2="475.65" y2="359.36" stroke="#a3aaa5" stroke-width="1"/>
<rect x="474.55" y="351.07" width="2.2" height="5.34" fill="#17a453"/>
<line x1="478.38" y1="348.78" x2="478.38" y2="357.58" stroke="#a3aaa5" stroke-width="1"/>
<rect x="477.27" y="351.07" width="2.2" height="3.78" fill="#e04a3c"/>
<line x1="481.10" y1="354.51" x2="481.10" y2="356.49" stroke="#a3aaa5" stroke-width="1"/>
<rect x="480.00" y="354.85" width="2.2" height="1.00" fill="#e04a3c"/>
<line x1="483.82" y1="354.77" x2="483.82" y2="367.44" stroke="#a3aaa5" stroke-width="1"/>
<rect x="482.72" y="355.76" width="2.2" height="8.96" fill="#e04a3c"/>
<line x1="486.54" y1="357.20" x2="486.54" y2="365.65" stroke="#a3aaa5" stroke-width="1"/>
<rect x="485.44" y="358.47" width="2.2" height="6.25" fill="#17a453"/>
<line x1="489.27" y1="355.99" x2="489.27" y2="377.19" stroke="#a3aaa5" stroke-width="1"/>
<rect x="488.17" y="358.47" width="2.2" height="15.12" fill="#e04a3c"/>
<line x1="491.99" y1="366.72" x2="491.99" y2="374.65" stroke="#a3aaa5" stroke-width="1"/>
<rect x="490.89" y="369.07" width="2.2" height="4.52" fill="#17a453"/>
<line x1="494.71" y1="363.84" x2="494.71" y2="371.68" stroke="#a3aaa5" stroke-width="1"/>
<rect x="493.61" y="364.63" width="2.2" height="4.44" fill="#17a453"/>
<line x1="497.43" y1="350.77" x2="497.43" y2="367.47" stroke="#a3aaa5" stroke-width="1"/>
<rect x="496.33" y="353.29" width="2.2" height="11.34" fill="#17a453"/>
<line x1="500.16" y1="353.04" x2="500.16" y2="353.79" stroke="#a3aaa5" stroke-width="1"/>
<rect x="499.06" y="353.29" width="2.2" height="1.00" fill="#e04a3c"/>
<line x1="502.88" y1="348.95" x2="502.88" y2="354.93" stroke="#a3aaa5" stroke-width="1"/>
<rect x="501.78" y="350.91" width="2.2" height="2.71" fill="#17a453"/>
<line x1="505.60" y1="350.69" x2="505.60" y2="353.65" stroke="#a3aaa5" stroke-width="1"/>
<rect x="504.50" y="350.91" width="2.2" height="1.00" fill="#e04a3c"/>
<line x1="508.32" y1="346.50" x2="508.32" y2="353.59" stroke="#a3aaa5" stroke-width="1"/>
<rect x="507.22" y="348.36" width="2.2" height="2.96" fill="#17a453"/>
<line x1="511.05" y1="347.88" x2="511.05" y2="353.44" stroke="#a3aaa5" stroke-width="1"/>
<rect x="509.94" y="348.36" width="2.2" height="2.71" fill="#e04a3c"/>
<line x1="513.77" y1="350.81" x2="513.77" y2="354.26" stroke="#a3aaa5" stroke-width="1"/>
<rect x="512.67" y="351.07" width="2.2" height="1.00" fill="#e04a3c"/>
<line x1="516.49" y1="344.78" x2="516.49" y2="353.46" stroke="#a3aaa5" stroke-width="1"/>
<rect x="515.39" y="346.47" width="2.2" height="5.59" fill="#17a453"/>
<line x1="519.21" y1="343.92" x2="519.21" y2="348.88" stroke="#a3aaa5" stroke-width="1"/>
<rect x="518.11" y="345.40" width="2.2" height="1.07" fill="#17a453"/>
<line x1="521.93" y1="337.76" x2="521.93" y2="346.36" stroke="#a3aaa5" stroke-width="1"/>
<rect x="520.83" y="339.07" width="2.2" height="6.33" fill="#17a453"/>
<line x1="524.66" y1="336.19" x2="524.66" y2="339.82" stroke="#a3aaa5" stroke-width="1"/>
<rect x="523.56" y="337.67" width="2.2" height="1.40" fill="#17a453"/>
<line x1="527.38" y1="327.35" x2="527.38" y2="339.01" stroke="#a3aaa5" stroke-width="1"/>
<rect x="526.28" y="328.55" width="2.2" height="9.12" fill="#17a453"/>
<line x1="530.10" y1="327.91" x2="530.10" y2="334.67" stroke="#a3aaa5" stroke-width="1"/>
<rect x="529.00" y="328.55" width="2.2" height="5.10" fill="#e04a3c"/>
<line x1="532.83" y1="323.60" x2="532.83" y2="335.29" stroke="#a3aaa5" stroke-width="1"/>
<rect x="531.73" y="325.26" width="2.2" height="8.38" fill="#17a453"/>
<line x1="535.55" y1="322.86" x2="535.55" y2="330.63" stroke="#a3aaa5" stroke-width="1"/>
<rect x="534.45" y="325.26" width="2.2" height="4.19" fill="#e04a3c"/>
<line x1="538.27" y1="318.53" x2="538.27" y2="330.80" stroke="#a3aaa5" stroke-width="1"/>
<rect x="537.17" y="320.74" width="2.2" height="8.71" fill="#17a453"/>
<line x1="540.99" y1="317.00" x2="540.99" y2="321.04" stroke="#a3aaa5" stroke-width="1"/>
<rect x="539.89" y="318.19" width="2.2" height="2.55" fill="#17a453"/>
<line x1="543.72" y1="313.35" x2="543.72" y2="318.61" stroke="#a3aaa5" stroke-width="1"/>
<rect x="542.62" y="314.41" width="2.2" height="3.78" fill="#17a453"/>
<line x1="546.44" y1="311.61" x2="546.44" y2="325.27" stroke="#a3aaa5" stroke-width="1"/>
<rect x="545.34" y="314.41" width="2.2" height="8.55" fill="#e04a3c"/>
<line x1="549.16" y1="322.34" x2="549.16" y2="325.48" stroke="#a3aaa5" stroke-width="1"/>
<rect x="548.06" y="322.96" width="2.2" height="1.15" fill="#e04a3c"/>
<line x1="551.88" y1="320.92" x2="551.88" y2="332.88" stroke="#a3aaa5" stroke-width="1"/>
<rect x="550.78" y="324.11" width="2.2" height="7.73" fill="#e04a3c"/>
<line x1="554.61" y1="326.45" x2="554.61" y2="333.26" stroke="#a3aaa5" stroke-width="1"/>
<rect x="553.50" y="328.88" width="2.2" height="2.96" fill="#17a453"/>
<line x1="557.33" y1="317.61" x2="557.33" y2="332.01" stroke="#a3aaa5" stroke-width="1"/>
<rect x="556.23" y="319.83" width="2.2" height="9.04" fill="#17a453"/>
<line x1="560.05" y1="318.31" x2="560.05" y2="326.51" stroke="#a3aaa5" stroke-width="1"/>
<rect x="558.95" y="319.83" width="2.2" height="4.85" fill="#e04a3c"/>
<line x1="562.77" y1="322.82" x2="562.77" y2="327.90" stroke="#a3aaa5" stroke-width="1"/>
<rect x="561.67" y="324.68" width="2.2" height="1.00" fill="#e04a3c"/>
<line x1="565.50" y1="323.32" x2="565.50" y2="339.14" stroke="#a3aaa5" stroke-width="1"/>
<rect x="564.39" y="325.26" width="2.2" height="10.69" fill="#e04a3c"/>
<line x1="568.22" y1="333.89" x2="568.22" y2="340.45" stroke="#a3aaa5" stroke-width="1"/>
<rect x="567.12" y="335.95" width="2.2" height="2.63" fill="#e04a3c"/>
<line x1="570.94" y1="335.65" x2="570.94" y2="339.64" stroke="#a3aaa5" stroke-width="1"/>
<rect x="569.84" y="336.85" width="2.2" height="1.73" fill="#17a453"/>
<line x1="573.66" y1="334.99" x2="573.66" y2="337.34" stroke="#a3aaa5" stroke-width="1"/>
<rect x="572.56" y="335.29" width="2.2" height="1.56" fill="#17a453"/>
<line x1="576.38" y1="334.26" x2="576.38" y2="346.54" stroke="#a3aaa5" stroke-width="1"/>
<rect x="575.28" y="335.29" width="2.2" height="8.55" fill="#e04a3c"/>
<line x1="579.11" y1="342.33" x2="579.11" y2="353.91" stroke="#a3aaa5" stroke-width="1"/>
<rect x="578.01" y="343.84" width="2.2" height="8.80" fill="#e04a3c"/>
<line x1="581.83" y1="330.62" x2="581.83" y2="356.78" stroke="#a3aaa5" stroke-width="1"/>
<rect x="580.73" y="332.82" width="2.2" height="19.81" fill="#17a453"/>
<line x1="584.55" y1="325.39" x2="584.55" y2="335.04" stroke="#a3aaa5" stroke-width="1"/>
<rect x="583.45" y="328.14" width="2.2" height="4.69" fill="#17a453"/>
<line x1="587.27" y1="318.43" x2="587.27" y2="329.60" stroke="#a3aaa5" stroke-width="1"/>
<rect x="586.17" y="320.00" width="2.2" height="8.14" fill="#17a453"/>
<line x1="590.00" y1="315.14" x2="590.00" y2="321.61" stroke="#a3aaa5" stroke-width="1"/>
<rect x="588.90" y="316.30" width="2.2" height="3.70" fill="#17a453"/>
<line x1="592.72" y1="312.62" x2="592.72" y2="317.81" stroke="#a3aaa5" stroke-width="1"/>
<rect x="591.62" y="313.34" width="2.2" height="2.96" fill="#17a453"/>
<line x1="595.44" y1="311.81" x2="595.44" y2="316.04" stroke="#a3aaa5" stroke-width="1"/>
<rect x="594.34" y="312.60" width="2.2" height="1.00" fill="#17a453"/>
<line x1="598.17" y1="299.49" x2="598.17" y2="315.07" stroke="#a3aaa5" stroke-width="1"/>
<rect x="597.07" y="303.15" width="2.2" height="9.45" fill="#17a453"/>
<line x1="600.89" y1="299.30" x2="600.89" y2="306.15" stroke="#a3aaa5" stroke-width="1"/>
<rect x="599.79" y="300.27" width="2.2" height="2.88" fill="#17a453"/>
<line x1="603.61" y1="297.95" x2="603.61" y2="301.41" stroke="#a3aaa5" stroke-width="1"/>
<rect x="602.51" y="298.96" width="2.2" height="1.32" fill="#17a453"/>
<line x1="606.33" y1="298.35" x2="606.33" y2="306.62" stroke="#a3aaa5" stroke-width="1"/>
<rect x="605.23" y="298.96" width="2.2" height="6.00" fill="#e04a3c"/>
<line x1="609.06" y1="295.75" x2="609.06" y2="307.10" stroke="#a3aaa5" stroke-width="1"/>
<rect x="607.96" y="297.81" width="2.2" height="7.15" fill="#17a453"/>
<line x1="611.78" y1="292.17" x2="611.78" y2="299.71" stroke="#a3aaa5" stroke-width="1"/>
<rect x="610.68" y="293.20" width="2.2" height="4.60" fill="#17a453"/>
<line x1="614.50" y1="288.58" x2="614.50" y2="294.39" stroke="#a3aaa5" stroke-width="1"/>
<rect x="613.40" y="289.01" width="2.2" height="4.19" fill="#17a453"/>
<line x1="617.22" y1="282.60" x2="617.22" y2="290.74" stroke="#a3aaa5" stroke-width="1"/>
<rect x="616.12" y="283.42" width="2.2" height="5.59" fill="#17a453"/>
<line x1="619.95" y1="277.15" x2="619.95" y2="284.05" stroke="#a3aaa5" stroke-width="1"/>
<rect x="618.85" y="277.83" width="2.2" height="5.59" fill="#17a453"/>
<line x1="622.67" y1="276.76" x2="622.67" y2="280.42" stroke="#a3aaa5" stroke-width="1"/>
<rect x="621.57" y="277.83" width="2.2" height="1.73" fill="#e04a3c"/>
<line x1="625.39" y1="270.29" x2="625.39" y2="281.83" stroke="#a3aaa5" stroke-width="1"/>
<rect x="624.29" y="272.73" width="2.2" height="6.82" fill="#17a453"/>
<line x1="628.11" y1="266.11" x2="628.11" y2="275.13" stroke="#a3aaa5" stroke-width="1"/>
<rect x="627.01" y="268.79" width="2.2" height="3.95" fill="#17a453"/>
<line x1="630.84" y1="266.51" x2="630.84" y2="272.63" stroke="#a3aaa5" stroke-width="1"/>
<rect x="629.74" y="268.79" width="2.2" height="1.07" fill="#e04a3c"/>
<line x1="633.56" y1="268.62" x2="633.56" y2="271.48" stroke="#a3aaa5" stroke-width="1"/>
<rect x="632.46" y="269.86" width="2.2" height="1.00" fill="#e04a3c"/>
<line x1="636.28" y1="256.80" x2="636.28" y2="271.86" stroke="#a3aaa5" stroke-width="1"/>
<rect x="635.18" y="260.82" width="2.2" height="9.62" fill="#17a453"/>
<line x1="639.00" y1="256.76" x2="639.00" y2="262.98" stroke="#a3aaa5" stroke-width="1"/>
<rect x="637.90" y="259.17" width="2.2" height="1.64" fill="#17a453"/>
<line x1="641.73" y1="258.63" x2="641.73" y2="266.26" stroke="#a3aaa5" stroke-width="1"/>
<rect x="640.62" y="259.17" width="2.2" height="4.11" fill="#e04a3c"/>
<line x1="644.45" y1="259.91" x2="644.45" y2="272.51" stroke="#a3aaa5" stroke-width="1"/>
<rect x="643.35" y="263.28" width="2.2" height="6.66" fill="#e04a3c"/>
<line x1="647.17" y1="266.50" x2="647.17" y2="286.43" stroke="#a3aaa5" stroke-width="1"/>
<rect x="646.07" y="269.94" width="2.2" height="12.82" fill="#e04a3c"/>
<line x1="649.89" y1="270.32" x2="649.89" y2="285.44" stroke="#a3aaa5" stroke-width="1"/>
<rect x="648.79" y="271.83" width="2.2" height="10.93" fill="#17a453"/>
<line x1="652.62" y1="267.77" x2="652.62" y2="274.59" stroke="#a3aaa5" stroke-width="1"/>
<rect x="651.51" y="269.53" width="2.2" height="2.30" fill="#17a453"/>
<line x1="655.34" y1="258.45" x2="655.34" y2="272.86" stroke="#a3aaa5" stroke-width="1"/>
<rect x="654.24" y="261.72" width="2.2" height="7.81" fill="#17a453"/>
<line x1="658.06" y1="252.65" x2="658.06" y2="265.18" stroke="#a3aaa5" stroke-width="1"/>
<rect x="656.96" y="255.14" width="2.2" height="6.58" fill="#17a453"/>
<line x1="660.78" y1="252.82" x2="660.78" y2="257.34" stroke="#a3aaa5" stroke-width="1"/>
<rect x="659.68" y="254.98" width="2.2" height="1.00" fill="#17a453"/>
<line x1="663.50" y1="254.04" x2="663.50" y2="257.52" stroke="#a3aaa5" stroke-width="1"/>
<rect x="662.40" y="254.98" width="2.2" height="2.22" fill="#e04a3c"/>
<line x1="666.23" y1="250.54" x2="666.23" y2="258.91" stroke="#a3aaa5" stroke-width="1"/>
<rect x="665.13" y="251.53" width="2.2" height="5.67" fill="#17a453"/>
<line x1="668.95" y1="243.50" x2="668.95" y2="254.91" stroke="#a3aaa5" stroke-width="1"/>
<rect x="667.85" y="244.54" width="2.2" height="6.99" fill="#17a453"/>
<line x1="671.67" y1="239.75" x2="671.67" y2="246.84" stroke="#a3aaa5" stroke-width="1"/>
<rect x="670.57" y="241.83" width="2.2" height="2.71" fill="#17a453"/>
<line x1="674.39" y1="239.76" x2="674.39" y2="244.48" stroke="#a3aaa5" stroke-width="1"/>
<rect x="673.29" y="241.83" width="2.2" height="1.00" fill="#e04a3c"/>
<line x1="677.12" y1="230.95" x2="677.12" y2="243.13" stroke="#a3aaa5" stroke-width="1"/>
<rect x="676.02" y="233.44" width="2.2" height="8.80" fill="#17a453"/>
<line x1="679.84" y1="226.45" x2="679.84" y2="236.32" stroke="#a3aaa5" stroke-width="1"/>
<rect x="678.74" y="229.50" width="2.2" height="3.95" fill="#17a453"/>
<line x1="682.56" y1="226.95" x2="682.56" y2="241.19" stroke="#a3aaa5" stroke-width="1"/>
<rect x="681.46" y="229.50" width="2.2" height="9.04" fill="#e04a3c"/>
<line x1="685.29" y1="236.03" x2="685.29" y2="242.91" stroke="#a3aaa5" stroke-width="1"/>
<rect x="684.19" y="238.54" width="2.2" height="3.78" fill="#e04a3c"/>
<line x1="688.01" y1="239.06" x2="688.01" y2="253.34" stroke="#a3aaa5" stroke-width="1"/>
<rect x="686.91" y="242.32" width="2.2" height="9.29" fill="#e04a3c"/>
<line x1="690.73" y1="249.64" x2="690.73" y2="270.27" stroke="#a3aaa5" stroke-width="1"/>
<rect x="689.63" y="251.77" width="2.2" height="15.78" fill="#17a453"/>
<line x1="693.45" y1="232.54" x2="693.45" y2="254.37" stroke="#a3aaa5" stroke-width="1"/>
<rect x="692.35" y="234.51" width="2.2" height="17.26" fill="#17a453"/>
<line x1="696.18" y1="224.85" x2="696.18" y2="235.85" stroke="#a3aaa5" stroke-width="1"/>
<rect x="695.08" y="227.94" width="2.2" height="6.58" fill="#17a453"/>
<line x1="698.90" y1="224.20" x2="698.90" y2="231.31" stroke="#a3aaa5" stroke-width="1"/>
<rect x="697.80" y="226.78" width="2.2" height="1.15" fill="#17a453"/>
<line x1="701.62" y1="223.23" x2="701.62" y2="249.71" stroke="#a3aaa5" stroke-width="1"/>
<rect x="700.52" y="226.78" width="2.2" height="19.73" fill="#e04a3c"/>
<line x1="704.34" y1="225.21" x2="704.34" y2="250.58" stroke="#a3aaa5" stroke-width="1"/>
<rect x="703.24" y="228.59" width="2.2" height="17.92" fill="#17a453"/>
<line x1="707.07" y1="219.13" x2="707.07" y2="231.30" stroke="#a3aaa5" stroke-width="1"/>
<rect x="705.97" y="222.35" width="2.2" height="6.25" fill="#17a453"/>
<line x1="709.79" y1="216.91" x2="709.79" y2="222.90" stroke="#a3aaa5" stroke-width="1"/>
<rect x="708.69" y="219.39" width="2.2" height="2.96" fill="#17a453"/>
<line x1="712.51" y1="217.71" x2="712.51" y2="220.36" stroke="#a3aaa5" stroke-width="1"/>
<rect x="711.41" y="218.32" width="2.2" height="1.07" fill="#17a453"/>
<line x1="715.23" y1="209.97" x2="715.23" y2="219.89" stroke="#a3aaa5" stroke-width="1"/>
<rect x="714.13" y="213.06" width="2.2" height="5.26" fill="#17a453"/>
<line x1="717.96" y1="206.57" x2="717.96" y2="213.51" stroke="#a3aaa5" stroke-width="1"/>
<rect x="716.86" y="208.95" width="2.2" height="4.11" fill="#17a453"/>
<line x1="720.68" y1="208.27" x2="720.68" y2="215.02" stroke="#a3aaa5" stroke-width="1"/>
<rect x="719.58" y="208.95" width="2.2" height="4.69" fill="#e04a3c"/>
<line x1="723.40" y1="210.70" x2="723.40" y2="223.12" stroke="#a3aaa5" stroke-width="1"/>
<rect x="722.30" y="213.63" width="2.2" height="6.49" fill="#e04a3c"/>
<line x1="726.12" y1="193.59" x2="726.12" y2="223.35" stroke="#a3aaa5" stroke-width="1"/>
<rect x="725.02" y="198.18" width="2.2" height="21.95" fill="#17a453"/>
<line x1="728.85" y1="195.35" x2="728.85" y2="211.19" stroke="#a3aaa5" stroke-width="1"/>
<rect x="727.75" y="198.18" width="2.2" height="10.36" fill="#e04a3c"/>
<line x1="731.57" y1="197.94" x2="731.57" y2="209.77" stroke="#a3aaa5" stroke-width="1"/>
<rect x="730.47" y="200.40" width="2.2" height="8.14" fill="#17a453"/>
<line x1="734.29" y1="191.51" x2="734.29" y2="201.63" stroke="#a3aaa5" stroke-width="1"/>
<rect x="733.19" y="195.22" width="2.2" height="5.18" fill="#17a453"/>
<line x1="737.01" y1="186.45" x2="737.01" y2="199.07" stroke="#a3aaa5" stroke-width="1"/>
<rect x="735.91" y="190.45" width="2.2" height="4.77" fill="#17a453"/>
<line x1="739.74" y1="190.07" x2="739.74" y2="195.62" stroke="#a3aaa5" stroke-width="1"/>
<rect x="738.63" y="190.45" width="2.2" height="3.21" fill="#e04a3c"/>
<line x1="742.46" y1="189.79" x2="742.46" y2="207.91" stroke="#a3aaa5" stroke-width="1"/>
<rect x="741.36" y="193.66" width="2.2" height="9.86" fill="#e04a3c"/>
<line x1="745.18" y1="198.32" x2="745.18" y2="204.80" stroke="#a3aaa5" stroke-width="1"/>
<rect x="744.08" y="200.23" width="2.2" height="3.29" fill="#17a453"/>
<line x1="747.90" y1="199.26" x2="747.90" y2="206.18" stroke="#a3aaa5" stroke-width="1"/>
<rect x="746.80" y="200.23" width="2.2" height="2.38" fill="#e04a3c"/>
<line x1="750.62" y1="200.95" x2="750.62" y2="215.02" stroke="#a3aaa5" stroke-width="1"/>
<rect x="749.52" y="202.62" width="2.2" height="9.45" fill="#e04a3c"/>
<line x1="753.35" y1="196.20" x2="753.35" y2="215.33" stroke="#a3aaa5" stroke-width="1"/>
<rect x="752.25" y="198.10" width="2.2" height="13.97" fill="#17a453"/>
<line x1="756.07" y1="185.25" x2="756.07" y2="199.43" stroke="#a3aaa5" stroke-width="1"/>
<rect x="754.97" y="189.55" width="2.2" height="8.55" fill="#17a453"/>
<line x1="758.79" y1="186.12" x2="758.79" y2="196.79" stroke="#a3aaa5" stroke-width="1"/>
<rect x="757.69" y="189.55" width="2.2" height="4.93" fill="#e04a3c"/>
<line x1="761.51" y1="191.19" x2="761.51" y2="198.34" stroke="#a3aaa5" stroke-width="1"/>
<rect x="760.41" y="194.48" width="2.2" height="1.23" fill="#e04a3c"/>
<line x1="764.24" y1="186.83" x2="764.24" y2="199.69" stroke="#a3aaa5" stroke-width="1"/>
<rect x="763.14" y="188.40" width="2.2" height="7.32" fill="#17a453"/>
<line x1="766.96" y1="185.83" x2="766.96" y2="197.71" stroke="#a3aaa5" stroke-width="1"/>
<rect x="765.86" y="188.40" width="2.2" height="8.38" fill="#e04a3c"/>
<line x1="769.68" y1="196.29" x2="769.68" y2="203.76" stroke="#a3aaa5" stroke-width="1"/>
<rect x="768.58" y="196.78" width="2.2" height="4.77" fill="#e04a3c"/>
<line x1="772.41" y1="198.49" x2="772.41" y2="219.31" stroke="#a3aaa5" stroke-width="1"/>
<rect x="771.31" y="201.55" width="2.2" height="15.21" fill="#e04a3c"/>
<line x1="775.13" y1="215.21" x2="775.13" y2="229.75" stroke="#a3aaa5" stroke-width="1"/>
<rect x="774.03" y="216.76" width="2.2" height="10.77" fill="#e04a3c"/>
<line x1="777.85" y1="223.84" x2="777.85" y2="230.58" stroke="#a3aaa5" stroke-width="1"/>
<rect x="776.75" y="225.14" width="2.2" height="2.38" fill="#17a453"/>
<line x1="780.57" y1="224.42" x2="780.57" y2="235.49" stroke="#a3aaa5" stroke-width="1"/>
<rect x="779.47" y="225.14" width="2.2" height="7.15" fill="#e04a3c"/>
<line x1="783.30" y1="226.21" x2="783.30" y2="274.38" stroke="#a3aaa5" stroke-width="1"/>
<rect x="782.20" y="232.37" width="2.2" height="41.59" fill="#e04a3c"/>
<line x1="786.02" y1="240.51" x2="786.02" y2="293.61" stroke="#a3aaa5" stroke-width="1"/>
<rect x="784.92" y="250.21" width="2.2" height="33.13" fill="#17a453"/>
<line x1="788.74" y1="246.93" x2="788.74" y2="257.82" stroke="#a3aaa5" stroke-width="1"/>
<rect x="787.64" y="250.21" width="2.2" height="6.58" fill="#e04a3c"/>
<line x1="791.46" y1="231.88" x2="791.46" y2="261.11" stroke="#a3aaa5" stroke-width="1"/>
<rect x="790.36" y="236.89" width="2.2" height="19.89" fill="#17a453"/>
<line x1="794.19" y1="219.21" x2="794.19" y2="239.20" stroke="#a3aaa5" stroke-width="1"/>
<rect x="793.09" y="223.58" width="2.2" height="13.32" fill="#17a453"/>
<line x1="796.91" y1="222.11" x2="796.91" y2="227.34" stroke="#a3aaa5" stroke-width="1"/>
<rect x="795.81" y="223.58" width="2.2" height="2.22" fill="#e04a3c"/>
<line x1="799.63" y1="195.33" x2="799.63" y2="230.33" stroke="#a3aaa5" stroke-width="1"/>
<rect x="798.53" y="201.30" width="2.2" height="24.50" fill="#17a453"/>
<line x1="802.35" y1="198.79" x2="802.35" y2="216.79" stroke="#a3aaa5" stroke-width="1"/>
<rect x="801.25" y="201.30" width="2.2" height="12.74" fill="#e04a3c"/>
<line x1="805.08" y1="203.22" x2="805.08" y2="215.11" stroke="#a3aaa5" stroke-width="1"/>
<rect x="803.98" y="205.08" width="2.2" height="8.96" fill="#17a453"/>
<line x1="807.80" y1="196.77" x2="807.80" y2="208.77" stroke="#a3aaa5" stroke-width="1"/>
<rect x="806.70" y="197.85" width="2.2" height="7.23" fill="#17a453"/>
<line x1="810.52" y1="196.65" x2="810.52" y2="203.24" stroke="#a3aaa5" stroke-width="1"/>
<rect x="809.42" y="197.85" width="2.2" height="1.89" fill="#e04a3c"/>
<line x1="813.24" y1="198.79" x2="813.24" y2="201.49" stroke="#a3aaa5" stroke-width="1"/>
<rect x="812.14" y="199.74" width="2.2" height="1.00" fill="#e04a3c"/>
<line x1="815.97" y1="180.08" x2="815.97" y2="202.86" stroke="#a3aaa5" stroke-width="1"/>
<rect x="814.87" y="183.63" width="2.2" height="16.85" fill="#17a453"/>
<line x1="818.69" y1="172.66" x2="818.69" y2="188.05" stroke="#a3aaa5" stroke-width="1"/>
<rect x="817.59" y="174.92" width="2.2" height="8.71" fill="#17a453"/>
<line x1="821.41" y1="171.48" x2="821.41" y2="179.64" stroke="#a3aaa5" stroke-width="1"/>
<rect x="820.31" y="174.92" width="2.2" height="1.56" fill="#e04a3c"/>
<line x1="824.13" y1="170.78" x2="824.13" y2="180.19" stroke="#a3aaa5" stroke-width="1"/>
<rect x="823.03" y="173.44" width="2.2" height="3.04" fill="#17a453"/>
<line x1="826.86" y1="161.56" x2="826.86" y2="176.27" stroke="#a3aaa5" stroke-width="1"/>
<rect x="825.75" y="165.87" width="2.2" height="7.56" fill="#17a453"/>
<line x1="829.58" y1="161.98" x2="829.58" y2="179.71" stroke="#a3aaa5" stroke-width="1"/>
<rect x="828.48" y="165.87" width="2.2" height="12.41" fill="#e04a3c"/>
<line x1="832.30" y1="161.86" x2="832.30" y2="181.23" stroke="#a3aaa5" stroke-width="1"/>
<rect x="831.20" y="165.87" width="2.2" height="12.41" fill="#17a453"/>
<line x1="835.02" y1="157.49" x2="835.02" y2="168.84" stroke="#a3aaa5" stroke-width="1"/>
<rect x="833.92" y="160.86" width="2.2" height="5.01" fill="#17a453"/>
<line x1="837.75" y1="158.23" x2="837.75" y2="161.19" stroke="#a3aaa5" stroke-width="1"/>
<rect x="836.64" y="159.46" width="2.2" height="1.40" fill="#17a453"/>
<line x1="840.47" y1="155.86" x2="840.47" y2="160.58" stroke="#a3aaa5" stroke-width="1"/>
<rect x="839.37" y="159.46" width="2.2" height="1.00" fill="#e04a3c"/>
<line x1="843.19" y1="156.24" x2="843.19" y2="161.54" stroke="#a3aaa5" stroke-width="1"/>
<rect x="842.09" y="158.23" width="2.2" height="1.81" fill="#17a453"/>
<line x1="845.91" y1="147.85" x2="845.91" y2="161.95" stroke="#a3aaa5" stroke-width="1"/>
<rect x="844.81" y="149.85" width="2.2" height="8.38" fill="#17a453"/>
<line x1="848.63" y1="138.76" x2="848.63" y2="151.53" stroke="#a3aaa5" stroke-width="1"/>
<rect x="847.53" y="143.27" width="2.2" height="6.58" fill="#17a453"/>
<line x1="851.36" y1="140.53" x2="851.36" y2="146.26" stroke="#a3aaa5" stroke-width="1"/>
<rect x="850.26" y="143.27" width="2.2" height="1.64" fill="#e04a3c"/>
<line x1="854.08" y1="136.19" x2="854.08" y2="147.07" stroke="#a3aaa5" stroke-width="1"/>
<rect x="852.98" y="138.99" width="2.2" height="5.92" fill="#17a453"/>
<line x1="67.5" y1="477" x2="373.5" y2="283.2" stroke="#4f64ee" stroke-width="0.95"/>
<line x1="795.1" y1="232.7" x2="868" y2="131.6" stroke="#4f64ee" stroke-width="0.95"/>
<line x1="288" y1="316.5" x2="372.3" y2="316.5" stroke="#a05a54" stroke-width="1.3"/>
<line x1="818.8" y1="157.2" x2="906" y2="157" stroke="#a05a54" stroke-width="1.3"/>
<polygon points="297.40,283.10 301.20,283.10 301.20,286.80 303.40,286.80 299.30,294.40 295.20,286.80 297.40,286.80" fill="#db4b3e"/>
<polygon points="321.60,279.00 325.40,279.00 325.40,282.70 327.60,282.70 323.50,290.30 319.40,282.70 321.60,282.70" fill="#db4b3e"/>
<polygon points="852.60,119.50 856.40,119.50 856.40,123.20 858.60,123.20 854.50,130.80 850.40,123.20 852.60,123.20" fill="#db4b3e"/>
<polygon points="70.30,515.60 74.10,522.80 72.20,522.80 72.20,527.10 68.40,527.10 68.40,522.80 66.50,522.80" fill="#2b8c55"/>
<polygon points="432.40,402.30 436.20,409.50 434.30,409.50 434.30,413.80 430.50,413.80 430.50,409.50 428.60,409.50" fill="#2b8c55"/>
<polygon points="582.50,355.70 586.30,362.90 584.40,362.90 584.40,367.20 580.60,367.20 580.60,362.90 578.70,362.90" fill="#2b8c55"/>
<polygon points="786.30,296.40 790.10,303.60 788.20,303.60 788.20,307.90 784.40,307.90 784.40,303.60 782.50,303.60" fill="#2b8c55"/>
<text x="441" y="154.2" font-size="24.5" font-weight="bold" fill="#111" text-anchor="start" textLength="57.7" lengthAdjust="spacingAndGlyphs" font-family="Liberation Sans, sans-serif" stroke="#111" stroke-width="0.7">SP500</text>
<text x="424.6" y="178.8" font-size="24.5" font-weight="bold" fill="#111" text-anchor="start" textLength="91.3" lengthAdjust="spacingAndGlyphs" font-family="Liberation Sans, sans-serif" stroke="#111" stroke-width="0.7">-semanal-</text>
<text x="821.7" y="115.2" font-size="8.8" font-weight="bold" fill="#333" text-anchor="start" textLength="63.8" lengthAdjust="spacingAndGlyphs" font-family="Liberation Sans, sans-serif" stroke="#333" stroke-width="0.25">¿Techo corto plazo?</text>
<rect x="997" y="35" width="2" height="718.5" fill="#d4d4d4"/>
<rect x="999" y="587.80" width="1.2" height="1" fill="#666"/>
<text x="1000.8" y="591.3" font-size="8.4" font-weight="normal" fill="#444" text-anchor="start" textLength="16.4" lengthAdjust="spacingAndGlyphs" font-family="Liberation Sans, sans-serif" >1250.00</text>
<rect x="999" y="567.25" width="1.2" height="1" fill="#666"/>
<text x="1000.8" y="570.75" font-size="8.4" font-weight="normal" fill="#444" text-anchor="start" textLength="16.4" lengthAdjust="spacingAndGlyphs" font-family="Liberation Sans, sans-serif" >1500.00</text>
<rect x="999" y="546.70" width="1.2" height="1" fill="#666"/>
<text x="1000.8" y="550.2" font-size="8.4" font-weight="normal" fill="#444" text-anchor="start" textLength="16.4" lengthAdjust="spacingAndGlyphs" font-family="Liberation Sans, sans-serif" >1750.00</text>
<rect x="999" y="526.15" width="1.2" height="1" fill="#666"/>
<text x="1000.8" y="529.65" font-size="8.4" font-weight="normal" fill="#444" text-anchor="start" textLength="16.4" lengthAdjust="spacingAndGlyphs" font-family="Liberation Sans, sans-serif" >2000.00</text>
<rect x="999" y="505.60" width="1.2" height="1" fill="#666"/>
<text x="1000.8" y="509.09999999999997" font-size="8.4" font-weight="normal" fill="#444" text-anchor="start" textLength="16.4" lengthAdjust="spacingAndGlyphs" font-family="Liberation Sans, sans-serif" >2250.00</text>
<rect x="999" y="485.05" width="1.2" height="1" fill="#666"/>
<text x="1000.8" y="488.54999999999995" font-size="8.4" font-weight="normal" fill="#444" text-anchor="start" textLength="16.4" lengthAdjust="spacingAndGlyphs" font-family="Liberation Sans, sans-serif" >2500.00</text>
<rect x="999" y="464.50" width="1.2" height="1" fill="#666"/>
<text x="1000.8" y="468.0" font-size="8.4" font-weight="normal" fill="#444" text-anchor="start" textLength="16.4" lengthAdjust="spacingAndGlyphs" font-family="Liberation Sans, sans-serif" >2750.00</text>
<rect x="999" y="443.95" width="1.2" height="1" fill="#666"/>
<text x="1000.8" y="447.45" font-size="8.4" font-weight="normal" fill="#444" text-anchor="start" textLength="16.4" lengthAdjust="spacingAndGlyphs" font-family="Liberation Sans, sans-serif" >3000.00</text>
<rect x="999" y="423.40" width="1.2" height="1" fill="#666"/>
<text x="1000.8" y="426.9" font-size="8.4" font-weight="normal" fill="#444" text-anchor="start" textLength="16.4" lengthAdjust="spacingAndGlyphs" font-family="Liberation Sans, sans-serif" >3250.00</text>
<rect x="999" y="402.85" width="1.2" height="1" fill="#666"/>
<text x="1000.8" y="406.34999999999997" font-size="8.4" font-weight="normal" fill="#444" text-anchor="start" textLength="16.4" lengthAdjust="spacingAndGlyphs" font-family="Liberation Sans, sans-serif" >3500.00</text>
<rect x="999" y="382.30" width="1.2" height="1" fill="#666"/>
<text x="1000.8" y="385.79999999999995" font-size="8.4" font-weight="normal" fill="#444" text-anchor="start" textLength="16.4" lengthAdjust="spacingAndGlyphs" font-family="Liberation Sans, sans-serif" >3750.00</text>
<rect x="999" y="361.75" width="1.2" height="1" fill="#666"/>
<text x="1000.8" y="365.25" font-size="8.4" font-weight="normal" fill="#444" text-anchor="start" textLength="16.4" lengthAdjust="spacingAndGlyphs" font-family="Liberation Sans, sans-serif" >4000.00</text>
<rect x="999" y="341.20" width="1.2" height="1" fill="#666"/>
<text x="1000.8" y="344.7" font-size="8.4" font-weight="normal" fill="#444" text-anchor="start" textLength="16.4" lengthAdjust="spacingAndGlyphs" font-family="Liberation Sans, sans-serif" >4250.00</text>
<rect x="999" y="320.65" width="1.2" height="1" fill="#666"/>
<text x="1000.8" y="324.15" font-size="8.4" font-weight="normal" fill="#444" text-anchor="start" textLength="16.4" lengthAdjust="spacingAndGlyphs" font-family="Liberation Sans, sans-serif" >4500.00</text>
<rect x="999" y="300.10" width="1.2" height="1" fill="#666"/>
<text x="1000.8" y="303.6" font-size="8.4" font-weight="normal" fill="#444" text-anchor="start" textLength="16.4" lengthAdjust="spacingAndGlyphs" font-family="Liberation Sans, sans-serif" >4750.00</text>
<rect x="999" y="279.55" width="1.2" height="1" fill="#666"/>
<text x="1000.8" y="283.04999999999995" font-size="8.4" font-weight="normal" fill="#444" text-anchor="start" textLength="16.4" lengthAdjust="spacingAndGlyphs" font-family="Liberation Sans, sans-serif" >5000.00</text>
<rect x="999" y="259.00" width="1.2" height="1" fill="#666"/>
<text x="1000.8" y="262.5" font-size="8.4" font-weight="normal" fill="#444" text-anchor="start" textLength="16.4" lengthAdjust="spacingAndGlyphs" font-family="Liberation Sans, sans-serif" >5250.00</text>
<rect x="999" y="238.45" width="1.2" height="1" fill="#666"/>
<text x="1000.8" y="241.95" font-size="8.4" font-weight="normal" fill="#444" text-anchor="start" textLength="16.4" lengthAdjust="spacingAndGlyphs" font-family="Liberation Sans, sans-serif" >5500.00</text>
<rect x="999" y="217.90" width="1.2" height="1" fill="#666"/>
<text x="1000.8" y="221.39999999999998" font-size="8.4" font-weight="normal" fill="#444" text-anchor="start" textLength="16.4" lengthAdjust="spacingAndGlyphs" font-family="Liberation Sans, sans-serif" >5750.00</text>
<rect x="999" y="197.35" width="1.2" height="1" fill="#666"/>
<text x="1000.8" y="200.85" font-size="8.4" font-weight="normal" fill="#444" text-anchor="start" textLength="16.4" lengthAdjust="spacingAndGlyphs" font-family="Liberation Sans, sans-serif" >6000.00</text>
<rect x="999" y="176.80" width="1.2" height="1" fill="#666"/>
<text x="1000.8" y="180.3" font-size="8.4" font-weight="normal" fill="#444" text-anchor="start" textLength="16.4" lengthAdjust="spacingAndGlyphs" font-family="Liberation Sans, sans-serif" >6250.00</text>
<rect x="999" y="115.15" width="1.2" height="1" fill="#666"/>
<text x="1000.8" y="118.65" font-size="8.4" font-weight="normal" fill="#444" text-anchor="start" textLength="16.4" lengthAdjust="spacingAndGlyphs" font-family="Liberation Sans, sans-serif" >7000.00</text>
<rect x="999" y="94.60" width="1.2" height="1" fill="#666"/>
<text x="1000.8" y="98.1" font-size="8.4" font-weight="normal" fill="#444" text-anchor="start" textLength="16.4" lengthAdjust="spacingAndGlyphs" font-family="Liberation Sans, sans-serif" >7250.00</text>
<rect x="999" y="74.05" width="1.2" height="1" fill="#666"/>
<text x="1000.8" y="77.55" font-size="8.4" font-weight="normal" fill="#444" text-anchor="start" textLength="16.4" lengthAdjust="spacingAndGlyphs" font-family="Liberation Sans, sans-serif" >7500.00</text>
<rect x="999" y="53.50" width="1.2" height="1" fill="#666"/>
<text x="1000.8" y="57.0" font-size="8.4" font-weight="normal" fill="#444" text-anchor="start" textLength="16.4" lengthAdjust="spacingAndGlyphs" font-family="Liberation Sans, sans-serif" >7750.00</text>
<rect x="997.8" y="134.00" width="20.8" height="9.8" fill="#5470e0"/>
<text x="1000.5" y="141.9" font-size="8.2" font-weight="bold" fill="#fff" text-anchor="start" textLength="16.6" lengthAdjust="spacingAndGlyphs" font-family="Liberation Sans, sans-serif" >6715.79</text>
<rect x="997.8" y="150.30" width="20.8" height="9.8" fill="#ff0000"/>
<text x="1000.5" y="158.2" font-size="8.2" font-weight="bold" fill="#fff" text-anchor="start" textLength="16.6" lengthAdjust="spacingAndGlyphs" font-family="Liberation Sans, sans-serif" >6518.18</text>
<rect x="997.8" y="166.10" width="20.8" height="9.8" fill="#0b8a22"/>
<text x="1000.5" y="174.0" font-size="8.2" font-weight="bold" fill="#fff" text-anchor="start" textLength="16.6" lengthAdjust="spacingAndGlyphs" font-family="Liberation Sans, sans-serif" >6026.71</text>
<rect x="3" y="598" width="1018" height="1" fill="#888"/>
<text x="8.6" y="587.8" font-size="12.2" font-weight="bold" fill="#111" text-anchor="start" textLength="36.2" lengthAdjust="spacingAndGlyphs" font-family="Liberation Sans, sans-serif" stroke="#111" stroke-width="0.45">Investing</text>
<text x="45.9" y="587.8" font-size="8.3" font-weight="normal" fill="#999" text-anchor="start" textLength="11.7" lengthAdjust="spacingAndGlyphs" font-family="Liberation Sans, sans-serif" >.com</text>
<rect x="33.4" y="577.6" width="1.2" height="1.4" fill="#e04a2a"/>
<rect x="0" y="653.90" width="997" height="68.40" fill="#f8f9f9"/>
<line x1="3" y1="653.90" x2="997" y2="653.90" stroke="#9a9a9a" stroke-width="1.2" stroke-dasharray="2,2.5"/>
<line x1="3" y1="722.30" x2="997" y2="722.30" stroke="#9a9a9a" stroke-width="1.2" stroke-dasharray="2,2.5"/>
<text x="7.5" y="611" font-size="8.8" font-weight="normal" fill="#333" text-anchor="start" textLength="141.7" lengthAdjust="spacingAndGlyphs" font-family="Liberation Sans, sans-serif" >Índice de fuerza relativa (RSI por sus siglas en inglés) (14)</text>
<polyline points="4.66,681.85 7.38,678.88 10.10,672.39 12.83,665.53 15.55,661.83 18.27,658.17 20.99,660.94 23.72,656.61 26.44,655.92 29.16,652.75 31.88,646.42 34.61,644.34 37.33,646.05 40.05,642.63 42.77,636.41 45.50,647.75 48.22,666.53 50.94,654.26 53.66,649.33 56.39,658.85 59.11,708.18 61.83,705.94 64.56,722.79 67.28,737.75 70.00,716.72 72.72,718.74 75.44,697.64 78.17,692.67 80.89,694.66 83.61,694.99 86.34,688.62 89.06,692.63 91.78,686.74 94.50,681.32 97.22,673.08 99.95,683.45 102.67,680.23 105.39,686.08 108.12,679.07 110.84,676.05 113.56,673.84 116.28,674.56 119.00,671.30 121.73,666.74 124.45,665.51 127.17,664.11 129.90,658.01 132.62,666.37 135.34,674.57 138.06,676.61 140.78,678.63 143.51,674.78 146.23,665.89 148.95,665.44 151.68,667.66 154.40,687.19 157.12,670.63 159.84,666.36 162.56,668.88 165.29,664.26 168.01,660.92 170.73,664.67 173.46,661.95 176.18,662.63 178.90,659.34 181.62,655.28 184.34,662.36 187.07,657.80 189.79,672.27 192.51,661.48 195.24,658.93 197.96,661.92 200.68,672.07 203.40,669.95 206.12,663.41 208.85,666.73 211.57,662.70 214.29,659.88 217.02,653.65 219.74,650.75 222.46,651.42 225.18,651.36 227.91,648.37 230.63,657.11 233.35,659.72 236.07,656.26 238.80,654.44 241.52,653.22 244.24,666.14 246.96,657.18 249.69,652.51 252.41,651.37 255.13,658.16 257.85,652.28 260.58,654.98 263.30,652.05 266.02,649.95 268.74,654.53 271.47,649.69 274.19,647.92 276.91,661.19 279.63,665.39 282.36,663.32 285.08,678.39 287.80,674.71 290.52,666.81 293.25,660.49 295.97,655.91 298.69,649.75 301.41,652.05 304.13,651.01 306.86,667.49 309.58,675.35 312.30,661.09 315.02,672.39 317.75,664.72 320.47,661.98 323.19,672.42 325.92,674.00 328.64,698.03 331.36,694.96 334.08,688.95 336.81,695.47 339.53,700.69 342.25,697.19 344.97,701.50 347.69,710.11 350.42,687.49 353.14,681.94 355.86,681.73 358.59,686.50 361.31,693.82 364.03,702.07 366.75,710.23 369.48,710.72 372.20,716.06 374.92,721.93 377.64,699.65 380.37,702.38 383.09,712.67 385.81,721.48 388.53,704.79 391.25,708.41 393.98,703.55 396.70,705.19 399.42,698.52 402.15,688.32 404.87,687.46 407.59,679.88 410.31,683.23 413.04,693.32 415.76,700.27 418.48,691.43 421.20,701.03 423.93,708.62 426.65,712.69 429.37,709.06 432.09,711.39 434.81,700.14 437.54,691.42 440.26,697.79 442.98,685.92 445.71,687.38 448.43,684.19 451.15,681.77 453.87,689.80 456.60,694.24 459.32,694.62 462.04,694.91 464.76,691.02 467.49,684.04 470.21,685.90 472.93,679.41 475.65,675.36 478.38,679.15 481.10,680.08 483.82,688.98 486.54,683.22 489.27,696.61 491.99,692.33 494.71,688.21 497.43,678.61 500.16,678.94 502.88,676.64 505.60,677.12 508.32,674.40 511.05,677.85 513.77,679.13 516.49,673.33 519.21,672.25 521.93,666.04 524.66,664.72 527.38,656.80 530.10,665.12 532.83,658.11 535.55,664.68 538.27,657.67 540.99,655.78 543.72,653.01 546.44,666.57 549.16,668.29 551.88,679.23 554.61,676.08 557.33,667.33 560.05,674.17 562.77,674.98 565.50,688.82 568.22,691.86 570.94,689.65 573.66,687.61 576.38,698.07 579.11,707.05 581.83,683.68 584.55,679.31 587.27,672.28 590.00,669.29 592.72,666.91 595.44,666.30 598.17,658.93 600.89,656.87 603.61,655.91 606.33,665.31 609.06,659.48 611.78,656.03 614.50,653.04 617.22,649.28 619.95,645.81 622.67,648.89 625.39,644.58 628.11,642.28 630.84,644.35 633.56,645.52 636.28,639.51 639.00,638.59 641.73,647.14 644.45,659.72 647.17,679.20 649.89,668.80 652.62,666.82 655.34,660.51 658.06,655.77 660.78,655.65 663.50,659.30 666.23,654.85 668.95,649.91 671.67,648.12 674.39,648.89 677.12,643.14 679.84,640.84 682.56,657.12 685.29,663.22 688.01,676.65 690.73,676.87 693.45,661.47 696.18,656.86 698.90,656.07 701.62,680.96 704.34,667.51 707.07,663.58 709.79,661.76 712.51,661.08 715.23,657.71 717.96,655.17 720.68,661.52 723.40,669.83 726.12,655.54 728.85,667.05 731.57,662.14 734.29,659.18 737.01,656.53 739.74,660.38 742.46,671.49 745.18,669.14 747.90,671.85 750.62,681.98 753.35,671.12 756.07,665.45 758.79,670.74 761.51,672.07 764.24,666.75 766.96,675.98 769.68,680.88 772.41,694.53 775.13,702.51 777.85,700.16 780.57,705.34 783.30,726.29 786.02,706.68 788.74,709.70 791.46,695.97 794.19,688.08 796.91,689.36 799.63,676.26 802.35,683.85 805.08,679.32 807.80,675.78 810.52,677.03 813.24,677.55 815.97,668.81 818.69,664.77 821.41,666.04 824.13,664.53 826.86,660.81 829.58,671.62 832.30,665.17 835.02,662.72 837.75,662.02 840.47,662.59 843.19,661.57 845.91,656.95 848.63,653.58 851.36,655.55 854.08,652.38" fill="none" stroke="#858585" stroke-width="1.1" />
<line x1="28.8" y1="636.8" x2="385.5" y2="650.5" stroke="#1f2ee0" stroke-width="2.2"/>
<line x1="625.8" y1="637.2" x2="886.8" y2="647.8" stroke="#1f2ee0" stroke-width="2.2"/>
<polygon points="43.90,621.70 47.70,621.70 47.70,625.40 49.90,625.40 45.80,633.00 41.70,625.40 43.90,625.40" fill="#db4b3e"/>
<polygon points="269.90,631.00 273.70,631.00 273.70,634.70 275.90,634.70 271.80,642.30 267.70,634.70 269.90,634.70" fill="#db4b3e"/>
<polygon points="297.40,629.70 301.20,629.70 301.20,633.40 303.40,633.40 299.30,641.00 295.20,633.40 297.40,633.40" fill="#db4b3e"/>
<polygon points="635.10,621.70 638.90,621.70 638.90,625.40 641.10,625.40 637.00,633.00 632.90,625.40 635.10,625.40" fill="#db4b3e"/>
<polygon points="678.40,622.20 682.20,622.20 682.20,625.90 684.40,625.90 680.30,633.50 676.20,625.90 678.40,625.90" fill="#db4b3e"/>
<polygon points="852.40,630.20 856.20,630.20 856.20,633.90 858.40,633.90 854.30,641.50 850.20,633.90 852.40,633.90" fill="#db4b3e"/>
<rect x="999" y="738.90" width="1.2" height="1" fill="#666"/>
<text x="1000.8" y="742.4000000000001" font-size="8.4" font-weight="normal" fill="#555" text-anchor="start" textLength="16.4" lengthAdjust="spacingAndGlyphs" font-family="Liberation Sans, sans-serif" >20.0000</text>
<rect x="999" y="721.80" width="1.2" height="1" fill="#666"/>
<text x="1000.8" y="725.3000000000001" font-size="8.4" font-weight="normal" fill="#555" text-anchor="start" textLength="16.4" lengthAdjust="spacingAndGlyphs" font-family="Liberation Sans, sans-serif" >30.0000</text>
<rect x="999" y="704.70" width="1.2" height="1" fill="#666"/>
<text x="1000.8" y="708.2" font-size="8.4" font-weight="normal" fill="#555" text-anchor="start" textLength="16.4" lengthAdjust="spacingAndGlyphs" font-family="Liberation Sans, sans-serif" >40.0000</text>
<rect x="999" y="687.60" width="1.2" height="1" fill="#666"/>
<text x="1000.8" y="691.1" font-size="8.4" font-weight="normal" fill="#555" text-anchor="start" textLength="16.4" lengthAdjust="spacingAndGlyphs" font-family="Liberation Sans, sans-serif" >50.0000</text>
<rect x="999" y="670.50" width="1.2" height="1" fill="#666"/>
<text x="1000.8" y="674.0" font-size="8.4" font-weight="normal" fill="#555" text-anchor="start" textLength="16.4" lengthAdjust="spacingAndGlyphs" font-family="Liberation Sans, sans-serif" >60.0000</text>
<rect x="999" y="636.30" width="1.2" height="1" fill="#666"/>
<text x="1000.8" y="639.8000000000001" font-size="8.4" font-weight="normal" fill="#555" text-anchor="start" textLength="16.4" lengthAdjust="spacingAndGlyphs" font-family="Liberation Sans, sans-serif" >80.0000</text>
<rect x="999" y="619.20" width="1.2" height="1" fill="#666"/>
<text x="1000.8" y="622.7" font-size="8.4" font-weight="normal" fill="#555" text-anchor="start" textLength="16.4" lengthAdjust="spacingAndGlyphs" font-family="Liberation Sans, sans-serif" >90.0000</text>
<rect x="999" y="602.10" width="1.2" height="1" fill="#666"/>
<text x="1000.8" y="605.6" font-size="8.4" font-weight="normal" fill="#555" text-anchor="start" textLength="19.5" lengthAdjust="spacingAndGlyphs" font-family="Liberation Sans, sans-serif" >100.0000</text>
<rect x="997.8" y="647.3" width="20.8" height="9.4" fill="#000"/>
<text x="1000.5" y="655.0" font-size="8.2" font-weight="bold" fill="#fff" text-anchor="start" textLength="16.6" lengthAdjust="spacingAndGlyphs" font-family="Liberation Sans, sans-serif" >70.0624</text>
<rect x="3" y="752.8" width="995" height="1" fill="#999"/>
<clipPath id="tc"><rect x="3" y="753" width="995" height="15"/></clipPath><g clip-path="url(#tc)">
<rect x="4.20" y="753.5" width="1" height="1.5" fill="#777"/>
<text x="5.5" y="762.5" font-size="8.4" font-weight="normal" fill="#555" text-anchor="middle" textLength="7.2" lengthAdjust="spacingAndGlyphs" font-family="Liberation Sans, sans-serif" >Oct</text>
<rect x="39.60" y="753.5" width="1" height="1.5" fill="#777"/>
<text x="40.9" y="762.5" font-size="8.4" font-weight="normal" fill="#555" text-anchor="middle" textLength="10.2" lengthAdjust="spacingAndGlyphs" font-family="Liberation Sans, sans-serif" >2020</text>
<rect x="74.90" y="753.5" width="1" height="1.5" fill="#777"/>
<text x="76.2" y="762.5" font-size="8.4" font-weight="normal" fill="#555" text-anchor="middle" textLength="7.2" lengthAdjust="spacingAndGlyphs" font-family="Liberation Sans, sans-serif" >Abr</text>
<rect x="110.30" y="753.5" width="1" height="1.5" fill="#777"/>
<text x="111.6" y="762.5" font-size="8.4" font-weight="normal" fill="#555" text-anchor="middle" textLength="5.4" lengthAdjust="spacingAndGlyphs" font-family="Liberation Sans, sans-serif" >Jul</text>
<rect x="145.70" y="753.5" width="1" height="1.5" fill="#777"/>
<text x="147.0" y="762.5" font-size="8.4" font-weight="normal" fill="#555" text-anchor="middle" textLength="7.2" lengthAdjust="spacingAndGlyphs" font-family="Liberation Sans, sans-serif" >Oct</text>
<rect x="181.00" y="753.5" width="1" height="1.5" fill="#777"/>
<text x="182.3" y="762.5" font-size="8.4" font-weight="normal" fill="#555" text-anchor="middle" textLength="10.2" lengthAdjust="spacingAndGlyphs" font-family="Liberation Sans, sans-serif" >2021</text>
<rect x="216.40" y="753.5" width="1" height="1.5" fill="#777"/>
<text x="217.70000000000002" y="762.5" font-size="8.4" font-weight="normal" fill="#555" text-anchor="middle" textLength="7.2" lengthAdjust="spacingAndGlyphs" font-family="Liberation Sans, sans-serif" >Abr</text>
<rect x="251.70" y="753.5" width="1" height="1.5" fill="#777"/>
<text x="253.0" y="762.5" font-size="8.4" font-weight="normal" fill="#555" text-anchor="middle" textLength="5.4" lengthAdjust="spacingAndGlyphs" font-family="Liberation Sans, sans-serif" >Jul</text>
<rect x="287.10" y="753.5" width="1" height="1.5" fill="#777"/>
<text x="288.40000000000003" y="762.5" font-size="8.4" font-weight="normal" fill="#555" text-anchor="middle" textLength="7.2" lengthAdjust="spacingAndGlyphs" font-family="Liberation Sans, sans-serif" >Oct</text>
<rect x="322.50" y="753.5" width="1" height="1.5" fill="#777"/>
<text x="323.8" y="762.5" font-size="8.4" font-weight="normal" fill="#555" text-anchor="middle" textLength="10.2" lengthAdjust="spacingAndGlyphs" font-family="Liberation Sans, sans-serif" >2022</text>
<rect x="357.80" y="753.5" width="1" height="1.5" fill="#777"/>
<text x="359.1" y="762.5" font-size="8.4" font-weight="normal" fill="#555" text-anchor="middle" textLength="7.2" lengthAdjust="spacingAndGlyphs" font-family="Liberation Sans, sans-serif" >Abr</text>
<rect x="393.20" y="753.5" width="1" height="1.5" fill="#777"/>
<text x="394.5" y="762.5" font-size="8.4" font-weight="normal" fill="#555" text-anchor="middle" textLength="5.4" lengthAdjust="spacingAndGlyphs" font-family="Liberation Sans, sans-serif" >Jul</text>
<rect x="428.50" y="753.5" width="1" height="1.5" fill="#777"/>
<text x="429.8" y="762.5" font-size="8.4" font-weight="normal" fill="#555" text-anchor="middle" textLength="7.2" lengthAdjust="spacingAndGlyphs" font-family="Liberation Sans, sans-serif" >Oct</text>
<rect x="463.90" y="753.5" width="1" height="1.5" fill="#777"/>
<text x="465.2" y="762.5" font-size="8.4" font-weight="normal" fill="#555" text-anchor="middle" textLength="10.2" lengthAdjust="spacingAndGlyphs" font-family="Liberation Sans, sans-serif" >2023</text>
<rect x="499.30" y="753.5" width="1" height="1.5" fill="#777"/>
<text x="500.6" y="762.5" font-size="8.4" font-weight="normal" fill="#555" text-anchor="middle" textLength="7.2" lengthAdjust="spacingAndGlyphs" font-family="Liberation Sans, sans-serif" >Abr</text>
<rect x="534.60" y="753.5" width="1" height="1.5" fill="#777"/>
<text x="535.9" y="762.5" font-size="8.4" font-weight="normal" fill="#555" text-anchor="middle" textLength="5.4" lengthAdjust="spacingAndGlyphs" font-family="Liberation Sans, sans-serif" >Jul</text>
<rect x="570.00" y="753.5" width="1" height="1.5" fill="#777"/>
<text x="571.3" y="762.5" font-size="8.4" font-weight="normal" fill="#555" text-anchor="middle" textLength="7.2" lengthAdjust="spacingAndGlyphs" font-family="Liberation Sans, sans-serif" >Oct</text>
<rect x="605.30" y="753.5" width="1" height="1.5" fill="#777"/>
<text x="606.5999999999999" y="762.5" font-size="8.4" font-weight="normal" fill="#555" text-anchor="middle" textLength="10.2" lengthAdjust="spacingAndGlyphs" font-family="Liberation Sans, sans-serif" >2024</text>
<rect x="640.70" y="753.5" width="1" height="1.5" fill="#777"/>
<text x="642.0" y="762.5" font-size="8.4" font-weight="normal" fill="#555" text-anchor="middle" textLength="7.2" lengthAdjust="spacingAndGlyphs" font-family="Liberation Sans, sans-serif" >Abr</text>
<rect x="676.10" y="753.5" width="1" height="1.5" fill="#777"/>
<text x="677.4" y="762.5" font-size="8.4" font-weight="normal" fill="#555" text-anchor="middle" textLength="5.4" lengthAdjust="spacingAndGlyphs" font-family="Liberation Sans, sans-serif" >Jul</text>
<rect x="714.10" y="753.5" width="1" height="1.5" fill="#777"/>
<text x="715.4" y="762.5" font-size="8.4" font-weight="normal" fill="#555" text-anchor="middle" textLength="7.2" lengthAdjust="spacingAndGlyphs" font-family="Liberation Sans, sans-serif" >Oct</text>
<rect x="749.50" y="753.5" width="1" height="1.5" fill="#777"/>
<text x="750.8" y="762.5" font-size="8.4" font-weight="normal" fill="#555" text-anchor="middle" textLength="10.2" lengthAdjust="spacingAndGlyphs" font-family="Liberation Sans, sans-serif" >2025</text>
<rect x="784.90" y="753.5" width="1" height="1.5" fill="#777"/>
<text x="786.1999999999999" y="762.5" font-size="8.4" font-weight="normal" fill="#555" text-anchor="middle" textLength="7.2" lengthAdjust="spacingAndGlyphs" font-family="Liberation Sans, sans-serif" >Abr</text>
<rect x="820.20" y="753.5" width="1" height="1.5" fill="#777"/>
<text x="821.5" y="762.5" font-size="8.4" font-weight="normal" fill="#555" text-anchor="middle" textLength="5.4" lengthAdjust="spacingAndGlyphs" font-family="Liberation Sans, sans-serif" >Jul</text>
<rect x="852.90" y="753.5" width="1" height="1.5" fill="#777"/>
<text x="854.1999999999999" y="762.5" font-size="8.4" font-weight="normal" fill="#555" text-anchor="middle" textLength="5" lengthAdjust="spacingAndGlyphs" font-family="Liberation Sans, sans-serif" >29</text>
<rect x="890.90" y="753.5" width="1" height="1.5" fill="#777"/>
<text x="892.1999999999999" y="762.5" font-size="8.4" font-weight="normal" fill="#555" text-anchor="middle" textLength="10.2" lengthAdjust="spacingAndGlyphs" font-family="Liberation Sans, sans-serif" >2026</text>
<rect x="926.30" y="753.5" width="1" height="1.5" fill="#777"/>
<text x="927.5999999999999" y="762.5" font-size="8.4" font-weight="normal" fill="#555" text-anchor="middle" textLength="7.2" lengthAdjust="spacingAndGlyphs" font-family="Liberation Sans, sans-serif" >Abr</text>
<rect x="961.70" y="753.5" width="1" height="1.5" fill="#777"/>
<text x="963.0" y="762.5" font-size="8.4" font-weight="normal" fill="#555" text-anchor="middle" textLength="5.4" lengthAdjust="spacingAndGlyphs" font-family="Liberation Sans, sans-serif" >Jul</text>
</g>
</svg></body></html>
